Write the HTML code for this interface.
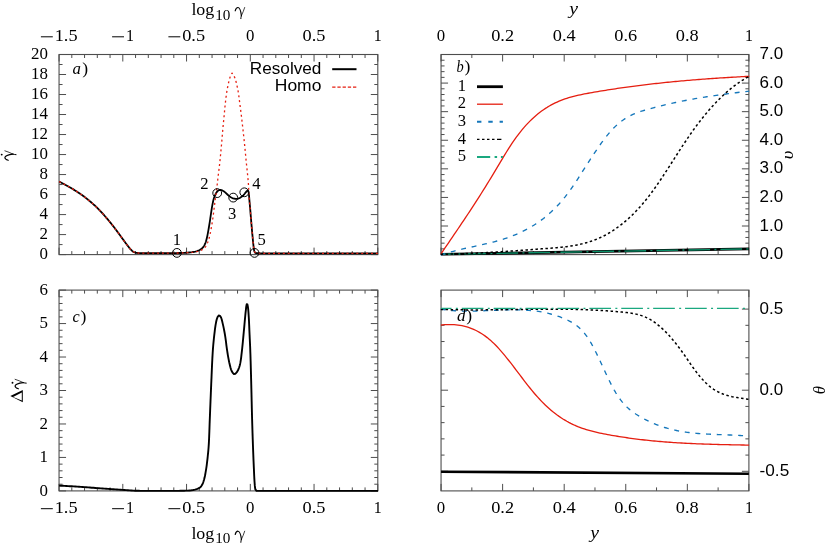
<!DOCTYPE html>
<html><head><meta charset="utf-8"><title>figure</title>
<style>html,body{margin:0;padding:0;background:#fff;}svg{display:block;will-change:transform;}</style>
</head><body>
<svg width="830" height="546" viewBox="0 0 830 546">
<clipPath id="ca"><rect x="58.55" y="52.5" width="319.75" height="204.1"/></clipPath>
<rect x="59.05" y="54.5" width="318.75" height="200.1" fill="none" stroke="#4d4d4d" stroke-width="1.1"/>
<line x1="59.05" y1="54.5" x2="59.05" y2="61.5" stroke="#4d4d4d" stroke-width="1.0" />
<line x1="122.8" y1="54.5" x2="122.8" y2="61.5" stroke="#4d4d4d" stroke-width="1.0" />
<line x1="186.55" y1="54.5" x2="186.55" y2="61.5" stroke="#4d4d4d" stroke-width="1.0" />
<line x1="250.3" y1="54.5" x2="250.3" y2="61.5" stroke="#4d4d4d" stroke-width="1.0" />
<line x1="314.05" y1="54.5" x2="314.05" y2="61.5" stroke="#4d4d4d" stroke-width="1.0" />
<line x1="377.8" y1="54.5" x2="377.8" y2="61.5" stroke="#4d4d4d" stroke-width="1.0" />
<line x1="71.8" y1="54.5" x2="71.8" y2="58" stroke="#4d4d4d" stroke-width="1.0" />
<line x1="84.55" y1="54.5" x2="84.55" y2="58" stroke="#4d4d4d" stroke-width="1.0" />
<line x1="97.3" y1="54.5" x2="97.3" y2="58" stroke="#4d4d4d" stroke-width="1.0" />
<line x1="110.05" y1="54.5" x2="110.05" y2="58" stroke="#4d4d4d" stroke-width="1.0" />
<line x1="135.55" y1="54.5" x2="135.55" y2="58" stroke="#4d4d4d" stroke-width="1.0" />
<line x1="148.3" y1="54.5" x2="148.3" y2="58" stroke="#4d4d4d" stroke-width="1.0" />
<line x1="161.05" y1="54.5" x2="161.05" y2="58" stroke="#4d4d4d" stroke-width="1.0" />
<line x1="173.8" y1="54.5" x2="173.8" y2="58" stroke="#4d4d4d" stroke-width="1.0" />
<line x1="199.3" y1="54.5" x2="199.3" y2="58" stroke="#4d4d4d" stroke-width="1.0" />
<line x1="212.05" y1="54.5" x2="212.05" y2="58" stroke="#4d4d4d" stroke-width="1.0" />
<line x1="224.8" y1="54.5" x2="224.8" y2="58" stroke="#4d4d4d" stroke-width="1.0" />
<line x1="237.55" y1="54.5" x2="237.55" y2="58" stroke="#4d4d4d" stroke-width="1.0" />
<line x1="263.05" y1="54.5" x2="263.05" y2="58" stroke="#4d4d4d" stroke-width="1.0" />
<line x1="275.8" y1="54.5" x2="275.8" y2="58" stroke="#4d4d4d" stroke-width="1.0" />
<line x1="288.55" y1="54.5" x2="288.55" y2="58" stroke="#4d4d4d" stroke-width="1.0" />
<line x1="301.3" y1="54.5" x2="301.3" y2="58" stroke="#4d4d4d" stroke-width="1.0" />
<line x1="326.8" y1="54.5" x2="326.8" y2="58" stroke="#4d4d4d" stroke-width="1.0" />
<line x1="339.55" y1="54.5" x2="339.55" y2="58" stroke="#4d4d4d" stroke-width="1.0" />
<line x1="352.3" y1="54.5" x2="352.3" y2="58" stroke="#4d4d4d" stroke-width="1.0" />
<line x1="365.05" y1="54.5" x2="365.05" y2="58" stroke="#4d4d4d" stroke-width="1.0" />
<line x1="59.05" y1="254.6" x2="59.05" y2="247.6" stroke="#4d4d4d" stroke-width="1.0" />
<line x1="122.8" y1="254.6" x2="122.8" y2="247.6" stroke="#4d4d4d" stroke-width="1.0" />
<line x1="186.55" y1="254.6" x2="186.55" y2="247.6" stroke="#4d4d4d" stroke-width="1.0" />
<line x1="250.3" y1="254.6" x2="250.3" y2="247.6" stroke="#4d4d4d" stroke-width="1.0" />
<line x1="314.05" y1="254.6" x2="314.05" y2="247.6" stroke="#4d4d4d" stroke-width="1.0" />
<line x1="377.8" y1="254.6" x2="377.8" y2="247.6" stroke="#4d4d4d" stroke-width="1.0" />
<line x1="71.8" y1="254.6" x2="71.8" y2="251.1" stroke="#4d4d4d" stroke-width="1.0" />
<line x1="84.55" y1="254.6" x2="84.55" y2="251.1" stroke="#4d4d4d" stroke-width="1.0" />
<line x1="97.3" y1="254.6" x2="97.3" y2="251.1" stroke="#4d4d4d" stroke-width="1.0" />
<line x1="110.05" y1="254.6" x2="110.05" y2="251.1" stroke="#4d4d4d" stroke-width="1.0" />
<line x1="135.55" y1="254.6" x2="135.55" y2="251.1" stroke="#4d4d4d" stroke-width="1.0" />
<line x1="148.3" y1="254.6" x2="148.3" y2="251.1" stroke="#4d4d4d" stroke-width="1.0" />
<line x1="161.05" y1="254.6" x2="161.05" y2="251.1" stroke="#4d4d4d" stroke-width="1.0" />
<line x1="173.8" y1="254.6" x2="173.8" y2="251.1" stroke="#4d4d4d" stroke-width="1.0" />
<line x1="199.3" y1="254.6" x2="199.3" y2="251.1" stroke="#4d4d4d" stroke-width="1.0" />
<line x1="212.05" y1="254.6" x2="212.05" y2="251.1" stroke="#4d4d4d" stroke-width="1.0" />
<line x1="224.8" y1="254.6" x2="224.8" y2="251.1" stroke="#4d4d4d" stroke-width="1.0" />
<line x1="237.55" y1="254.6" x2="237.55" y2="251.1" stroke="#4d4d4d" stroke-width="1.0" />
<line x1="263.05" y1="254.6" x2="263.05" y2="251.1" stroke="#4d4d4d" stroke-width="1.0" />
<line x1="275.8" y1="254.6" x2="275.8" y2="251.1" stroke="#4d4d4d" stroke-width="1.0" />
<line x1="288.55" y1="254.6" x2="288.55" y2="251.1" stroke="#4d4d4d" stroke-width="1.0" />
<line x1="301.3" y1="254.6" x2="301.3" y2="251.1" stroke="#4d4d4d" stroke-width="1.0" />
<line x1="326.8" y1="254.6" x2="326.8" y2="251.1" stroke="#4d4d4d" stroke-width="1.0" />
<line x1="339.55" y1="254.6" x2="339.55" y2="251.1" stroke="#4d4d4d" stroke-width="1.0" />
<line x1="352.3" y1="254.6" x2="352.3" y2="251.1" stroke="#4d4d4d" stroke-width="1.0" />
<line x1="365.05" y1="254.6" x2="365.05" y2="251.1" stroke="#4d4d4d" stroke-width="1.0" />
<line x1="59.05" y1="254.6" x2="66.05" y2="254.6" stroke="#4d4d4d" stroke-width="1.0" />
<line x1="59.05" y1="234.59" x2="66.05" y2="234.59" stroke="#4d4d4d" stroke-width="1.0" />
<line x1="59.05" y1="214.58" x2="66.05" y2="214.58" stroke="#4d4d4d" stroke-width="1.0" />
<line x1="59.05" y1="194.57" x2="66.05" y2="194.57" stroke="#4d4d4d" stroke-width="1.0" />
<line x1="59.05" y1="174.56" x2="66.05" y2="174.56" stroke="#4d4d4d" stroke-width="1.0" />
<line x1="59.05" y1="154.55" x2="66.05" y2="154.55" stroke="#4d4d4d" stroke-width="1.0" />
<line x1="59.05" y1="134.54" x2="66.05" y2="134.54" stroke="#4d4d4d" stroke-width="1.0" />
<line x1="59.05" y1="114.53" x2="66.05" y2="114.53" stroke="#4d4d4d" stroke-width="1.0" />
<line x1="59.05" y1="94.52" x2="66.05" y2="94.52" stroke="#4d4d4d" stroke-width="1.0" />
<line x1="59.05" y1="74.51" x2="66.05" y2="74.51" stroke="#4d4d4d" stroke-width="1.0" />
<line x1="59.05" y1="54.5" x2="66.05" y2="54.5" stroke="#4d4d4d" stroke-width="1.0" />
<line x1="59.05" y1="244.59" x2="62.55" y2="244.59" stroke="#4d4d4d" stroke-width="1.0" />
<line x1="59.05" y1="224.59" x2="62.55" y2="224.59" stroke="#4d4d4d" stroke-width="1.0" />
<line x1="59.05" y1="204.57" x2="62.55" y2="204.57" stroke="#4d4d4d" stroke-width="1.0" />
<line x1="59.05" y1="184.56" x2="62.55" y2="184.56" stroke="#4d4d4d" stroke-width="1.0" />
<line x1="59.05" y1="164.56" x2="62.55" y2="164.56" stroke="#4d4d4d" stroke-width="1.0" />
<line x1="59.05" y1="144.54" x2="62.55" y2="144.54" stroke="#4d4d4d" stroke-width="1.0" />
<line x1="59.05" y1="124.53" x2="62.55" y2="124.53" stroke="#4d4d4d" stroke-width="1.0" />
<line x1="59.05" y1="104.53" x2="62.55" y2="104.53" stroke="#4d4d4d" stroke-width="1.0" />
<line x1="59.05" y1="84.52" x2="62.55" y2="84.52" stroke="#4d4d4d" stroke-width="1.0" />
<line x1="59.05" y1="64.5" x2="62.55" y2="64.5" stroke="#4d4d4d" stroke-width="1.0" />
<line x1="377.8" y1="254.6" x2="370.8" y2="254.6" stroke="#4d4d4d" stroke-width="1.0" />
<line x1="377.8" y1="234.59" x2="370.8" y2="234.59" stroke="#4d4d4d" stroke-width="1.0" />
<line x1="377.8" y1="214.58" x2="370.8" y2="214.58" stroke="#4d4d4d" stroke-width="1.0" />
<line x1="377.8" y1="194.57" x2="370.8" y2="194.57" stroke="#4d4d4d" stroke-width="1.0" />
<line x1="377.8" y1="174.56" x2="370.8" y2="174.56" stroke="#4d4d4d" stroke-width="1.0" />
<line x1="377.8" y1="154.55" x2="370.8" y2="154.55" stroke="#4d4d4d" stroke-width="1.0" />
<line x1="377.8" y1="134.54" x2="370.8" y2="134.54" stroke="#4d4d4d" stroke-width="1.0" />
<line x1="377.8" y1="114.53" x2="370.8" y2="114.53" stroke="#4d4d4d" stroke-width="1.0" />
<line x1="377.8" y1="94.52" x2="370.8" y2="94.52" stroke="#4d4d4d" stroke-width="1.0" />
<line x1="377.8" y1="74.51" x2="370.8" y2="74.51" stroke="#4d4d4d" stroke-width="1.0" />
<line x1="377.8" y1="54.5" x2="370.8" y2="54.5" stroke="#4d4d4d" stroke-width="1.0" />
<line x1="377.8" y1="244.59" x2="374.3" y2="244.59" stroke="#4d4d4d" stroke-width="1.0" />
<line x1="377.8" y1="224.59" x2="374.3" y2="224.59" stroke="#4d4d4d" stroke-width="1.0" />
<line x1="377.8" y1="204.57" x2="374.3" y2="204.57" stroke="#4d4d4d" stroke-width="1.0" />
<line x1="377.8" y1="184.56" x2="374.3" y2="184.56" stroke="#4d4d4d" stroke-width="1.0" />
<line x1="377.8" y1="164.56" x2="374.3" y2="164.56" stroke="#4d4d4d" stroke-width="1.0" />
<line x1="377.8" y1="144.54" x2="374.3" y2="144.54" stroke="#4d4d4d" stroke-width="1.0" />
<line x1="377.8" y1="124.53" x2="374.3" y2="124.53" stroke="#4d4d4d" stroke-width="1.0" />
<line x1="377.8" y1="104.53" x2="374.3" y2="104.53" stroke="#4d4d4d" stroke-width="1.0" />
<line x1="377.8" y1="84.52" x2="374.3" y2="84.52" stroke="#4d4d4d" stroke-width="1.0" />
<line x1="377.8" y1="64.5" x2="374.3" y2="64.5" stroke="#4d4d4d" stroke-width="1.0" />
<clipPath id="cb"><rect x="440.55" y="52.5" width="308.85" height="204.1"/></clipPath>
<rect x="441.05" y="54.5" width="307.85" height="200.1" fill="none" stroke="#4d4d4d" stroke-width="1.1"/>
<line x1="441.05" y1="54.5" x2="441.05" y2="61.5" stroke="#4d4d4d" stroke-width="1.0" />
<line x1="502.62" y1="54.5" x2="502.62" y2="61.5" stroke="#4d4d4d" stroke-width="1.0" />
<line x1="564.19" y1="54.5" x2="564.19" y2="61.5" stroke="#4d4d4d" stroke-width="1.0" />
<line x1="625.76" y1="54.5" x2="625.76" y2="61.5" stroke="#4d4d4d" stroke-width="1.0" />
<line x1="687.33" y1="54.5" x2="687.33" y2="61.5" stroke="#4d4d4d" stroke-width="1.0" />
<line x1="748.9" y1="54.5" x2="748.9" y2="61.5" stroke="#4d4d4d" stroke-width="1.0" />
<line x1="471.84" y1="54.5" x2="471.84" y2="58" stroke="#4d4d4d" stroke-width="1.0" />
<line x1="533.4" y1="54.5" x2="533.4" y2="58" stroke="#4d4d4d" stroke-width="1.0" />
<line x1="594.98" y1="54.5" x2="594.98" y2="58" stroke="#4d4d4d" stroke-width="1.0" />
<line x1="656.54" y1="54.5" x2="656.54" y2="58" stroke="#4d4d4d" stroke-width="1.0" />
<line x1="718.12" y1="54.5" x2="718.12" y2="58" stroke="#4d4d4d" stroke-width="1.0" />
<line x1="441.05" y1="254.6" x2="441.05" y2="247.6" stroke="#4d4d4d" stroke-width="1.0" />
<line x1="502.62" y1="254.6" x2="502.62" y2="247.6" stroke="#4d4d4d" stroke-width="1.0" />
<line x1="564.19" y1="254.6" x2="564.19" y2="247.6" stroke="#4d4d4d" stroke-width="1.0" />
<line x1="625.76" y1="254.6" x2="625.76" y2="247.6" stroke="#4d4d4d" stroke-width="1.0" />
<line x1="687.33" y1="254.6" x2="687.33" y2="247.6" stroke="#4d4d4d" stroke-width="1.0" />
<line x1="748.9" y1="254.6" x2="748.9" y2="247.6" stroke="#4d4d4d" stroke-width="1.0" />
<line x1="471.84" y1="254.6" x2="471.84" y2="251.1" stroke="#4d4d4d" stroke-width="1.0" />
<line x1="533.4" y1="254.6" x2="533.4" y2="251.1" stroke="#4d4d4d" stroke-width="1.0" />
<line x1="594.98" y1="254.6" x2="594.98" y2="251.1" stroke="#4d4d4d" stroke-width="1.0" />
<line x1="656.54" y1="254.6" x2="656.54" y2="251.1" stroke="#4d4d4d" stroke-width="1.0" />
<line x1="718.12" y1="254.6" x2="718.12" y2="251.1" stroke="#4d4d4d" stroke-width="1.0" />
<line x1="441.05" y1="254.6" x2="448.05" y2="254.6" stroke="#4d4d4d" stroke-width="1.0" />
<line x1="441.05" y1="226.01" x2="448.05" y2="226.01" stroke="#4d4d4d" stroke-width="1.0" />
<line x1="441.05" y1="197.43" x2="448.05" y2="197.43" stroke="#4d4d4d" stroke-width="1.0" />
<line x1="441.05" y1="168.84" x2="448.05" y2="168.84" stroke="#4d4d4d" stroke-width="1.0" />
<line x1="441.05" y1="140.26" x2="448.05" y2="140.26" stroke="#4d4d4d" stroke-width="1.0" />
<line x1="441.05" y1="111.67" x2="448.05" y2="111.67" stroke="#4d4d4d" stroke-width="1.0" />
<line x1="441.05" y1="83.09" x2="448.05" y2="83.09" stroke="#4d4d4d" stroke-width="1.0" />
<line x1="441.05" y1="54.5" x2="448.05" y2="54.5" stroke="#4d4d4d" stroke-width="1.0" />
<line x1="441.05" y1="248.88" x2="444.55" y2="248.88" stroke="#4d4d4d" stroke-width="1.0" />
<line x1="441.05" y1="243.17" x2="444.55" y2="243.17" stroke="#4d4d4d" stroke-width="1.0" />
<line x1="441.05" y1="237.45" x2="444.55" y2="237.45" stroke="#4d4d4d" stroke-width="1.0" />
<line x1="441.05" y1="231.73" x2="444.55" y2="231.73" stroke="#4d4d4d" stroke-width="1.0" />
<line x1="441.05" y1="220.3" x2="444.55" y2="220.3" stroke="#4d4d4d" stroke-width="1.0" />
<line x1="441.05" y1="214.58" x2="444.55" y2="214.58" stroke="#4d4d4d" stroke-width="1.0" />
<line x1="441.05" y1="208.86" x2="444.55" y2="208.86" stroke="#4d4d4d" stroke-width="1.0" />
<line x1="441.05" y1="203.15" x2="444.55" y2="203.15" stroke="#4d4d4d" stroke-width="1.0" />
<line x1="441.05" y1="191.71" x2="444.55" y2="191.71" stroke="#4d4d4d" stroke-width="1.0" />
<line x1="441.05" y1="185.99" x2="444.55" y2="185.99" stroke="#4d4d4d" stroke-width="1.0" />
<line x1="441.05" y1="180.28" x2="444.55" y2="180.28" stroke="#4d4d4d" stroke-width="1.0" />
<line x1="441.05" y1="174.56" x2="444.55" y2="174.56" stroke="#4d4d4d" stroke-width="1.0" />
<line x1="441.05" y1="163.13" x2="444.55" y2="163.13" stroke="#4d4d4d" stroke-width="1.0" />
<line x1="441.05" y1="157.41" x2="444.55" y2="157.41" stroke="#4d4d4d" stroke-width="1.0" />
<line x1="441.05" y1="151.69" x2="444.55" y2="151.69" stroke="#4d4d4d" stroke-width="1.0" />
<line x1="441.05" y1="145.97" x2="444.55" y2="145.97" stroke="#4d4d4d" stroke-width="1.0" />
<line x1="441.05" y1="134.54" x2="444.55" y2="134.54" stroke="#4d4d4d" stroke-width="1.0" />
<line x1="441.05" y1="128.82" x2="444.55" y2="128.82" stroke="#4d4d4d" stroke-width="1.0" />
<line x1="441.05" y1="123.11" x2="444.55" y2="123.11" stroke="#4d4d4d" stroke-width="1.0" />
<line x1="441.05" y1="117.39" x2="444.55" y2="117.39" stroke="#4d4d4d" stroke-width="1.0" />
<line x1="441.05" y1="105.95" x2="444.55" y2="105.95" stroke="#4d4d4d" stroke-width="1.0" />
<line x1="441.05" y1="100.24" x2="444.55" y2="100.24" stroke="#4d4d4d" stroke-width="1.0" />
<line x1="441.05" y1="94.52" x2="444.55" y2="94.52" stroke="#4d4d4d" stroke-width="1.0" />
<line x1="441.05" y1="88.8" x2="444.55" y2="88.8" stroke="#4d4d4d" stroke-width="1.0" />
<line x1="441.05" y1="77.37" x2="444.55" y2="77.37" stroke="#4d4d4d" stroke-width="1.0" />
<line x1="441.05" y1="71.65" x2="444.55" y2="71.65" stroke="#4d4d4d" stroke-width="1.0" />
<line x1="441.05" y1="65.93" x2="444.55" y2="65.93" stroke="#4d4d4d" stroke-width="1.0" />
<line x1="441.05" y1="60.22" x2="444.55" y2="60.22" stroke="#4d4d4d" stroke-width="1.0" />
<line x1="748.9" y1="254.6" x2="741.9" y2="254.6" stroke="#4d4d4d" stroke-width="1.0" />
<line x1="748.9" y1="226.01" x2="741.9" y2="226.01" stroke="#4d4d4d" stroke-width="1.0" />
<line x1="748.9" y1="197.43" x2="741.9" y2="197.43" stroke="#4d4d4d" stroke-width="1.0" />
<line x1="748.9" y1="168.84" x2="741.9" y2="168.84" stroke="#4d4d4d" stroke-width="1.0" />
<line x1="748.9" y1="140.26" x2="741.9" y2="140.26" stroke="#4d4d4d" stroke-width="1.0" />
<line x1="748.9" y1="111.67" x2="741.9" y2="111.67" stroke="#4d4d4d" stroke-width="1.0" />
<line x1="748.9" y1="83.09" x2="741.9" y2="83.09" stroke="#4d4d4d" stroke-width="1.0" />
<line x1="748.9" y1="54.5" x2="741.9" y2="54.5" stroke="#4d4d4d" stroke-width="1.0" />
<line x1="748.9" y1="248.88" x2="745.4" y2="248.88" stroke="#4d4d4d" stroke-width="1.0" />
<line x1="748.9" y1="243.17" x2="745.4" y2="243.17" stroke="#4d4d4d" stroke-width="1.0" />
<line x1="748.9" y1="237.45" x2="745.4" y2="237.45" stroke="#4d4d4d" stroke-width="1.0" />
<line x1="748.9" y1="231.73" x2="745.4" y2="231.73" stroke="#4d4d4d" stroke-width="1.0" />
<line x1="748.9" y1="220.3" x2="745.4" y2="220.3" stroke="#4d4d4d" stroke-width="1.0" />
<line x1="748.9" y1="214.58" x2="745.4" y2="214.58" stroke="#4d4d4d" stroke-width="1.0" />
<line x1="748.9" y1="208.86" x2="745.4" y2="208.86" stroke="#4d4d4d" stroke-width="1.0" />
<line x1="748.9" y1="203.15" x2="745.4" y2="203.15" stroke="#4d4d4d" stroke-width="1.0" />
<line x1="748.9" y1="191.71" x2="745.4" y2="191.71" stroke="#4d4d4d" stroke-width="1.0" />
<line x1="748.9" y1="185.99" x2="745.4" y2="185.99" stroke="#4d4d4d" stroke-width="1.0" />
<line x1="748.9" y1="180.28" x2="745.4" y2="180.28" stroke="#4d4d4d" stroke-width="1.0" />
<line x1="748.9" y1="174.56" x2="745.4" y2="174.56" stroke="#4d4d4d" stroke-width="1.0" />
<line x1="748.9" y1="163.13" x2="745.4" y2="163.13" stroke="#4d4d4d" stroke-width="1.0" />
<line x1="748.9" y1="157.41" x2="745.4" y2="157.41" stroke="#4d4d4d" stroke-width="1.0" />
<line x1="748.9" y1="151.69" x2="745.4" y2="151.69" stroke="#4d4d4d" stroke-width="1.0" />
<line x1="748.9" y1="145.97" x2="745.4" y2="145.97" stroke="#4d4d4d" stroke-width="1.0" />
<line x1="748.9" y1="134.54" x2="745.4" y2="134.54" stroke="#4d4d4d" stroke-width="1.0" />
<line x1="748.9" y1="128.82" x2="745.4" y2="128.82" stroke="#4d4d4d" stroke-width="1.0" />
<line x1="748.9" y1="123.11" x2="745.4" y2="123.11" stroke="#4d4d4d" stroke-width="1.0" />
<line x1="748.9" y1="117.39" x2="745.4" y2="117.39" stroke="#4d4d4d" stroke-width="1.0" />
<line x1="748.9" y1="105.95" x2="745.4" y2="105.95" stroke="#4d4d4d" stroke-width="1.0" />
<line x1="748.9" y1="100.24" x2="745.4" y2="100.24" stroke="#4d4d4d" stroke-width="1.0" />
<line x1="748.9" y1="94.52" x2="745.4" y2="94.52" stroke="#4d4d4d" stroke-width="1.0" />
<line x1="748.9" y1="88.8" x2="745.4" y2="88.8" stroke="#4d4d4d" stroke-width="1.0" />
<line x1="748.9" y1="77.37" x2="745.4" y2="77.37" stroke="#4d4d4d" stroke-width="1.0" />
<line x1="748.9" y1="71.65" x2="745.4" y2="71.65" stroke="#4d4d4d" stroke-width="1.0" />
<line x1="748.9" y1="65.93" x2="745.4" y2="65.93" stroke="#4d4d4d" stroke-width="1.0" />
<line x1="748.9" y1="60.22" x2="745.4" y2="60.22" stroke="#4d4d4d" stroke-width="1.0" />
<clipPath id="cc"><rect x="58.55" y="288.1" width="319.75" height="204.8"/></clipPath>
<rect x="59.05" y="290.1" width="318.75" height="200.8" fill="none" stroke="#4d4d4d" stroke-width="1.1"/>
<line x1="59.05" y1="290.1" x2="59.05" y2="297.1" stroke="#4d4d4d" stroke-width="1.0" />
<line x1="122.8" y1="290.1" x2="122.8" y2="297.1" stroke="#4d4d4d" stroke-width="1.0" />
<line x1="186.55" y1="290.1" x2="186.55" y2="297.1" stroke="#4d4d4d" stroke-width="1.0" />
<line x1="250.3" y1="290.1" x2="250.3" y2="297.1" stroke="#4d4d4d" stroke-width="1.0" />
<line x1="314.05" y1="290.1" x2="314.05" y2="297.1" stroke="#4d4d4d" stroke-width="1.0" />
<line x1="377.8" y1="290.1" x2="377.8" y2="297.1" stroke="#4d4d4d" stroke-width="1.0" />
<line x1="71.8" y1="290.1" x2="71.8" y2="293.6" stroke="#4d4d4d" stroke-width="1.0" />
<line x1="84.55" y1="290.1" x2="84.55" y2="293.6" stroke="#4d4d4d" stroke-width="1.0" />
<line x1="97.3" y1="290.1" x2="97.3" y2="293.6" stroke="#4d4d4d" stroke-width="1.0" />
<line x1="110.05" y1="290.1" x2="110.05" y2="293.6" stroke="#4d4d4d" stroke-width="1.0" />
<line x1="135.55" y1="290.1" x2="135.55" y2="293.6" stroke="#4d4d4d" stroke-width="1.0" />
<line x1="148.3" y1="290.1" x2="148.3" y2="293.6" stroke="#4d4d4d" stroke-width="1.0" />
<line x1="161.05" y1="290.1" x2="161.05" y2="293.6" stroke="#4d4d4d" stroke-width="1.0" />
<line x1="173.8" y1="290.1" x2="173.8" y2="293.6" stroke="#4d4d4d" stroke-width="1.0" />
<line x1="199.3" y1="290.1" x2="199.3" y2="293.6" stroke="#4d4d4d" stroke-width="1.0" />
<line x1="212.05" y1="290.1" x2="212.05" y2="293.6" stroke="#4d4d4d" stroke-width="1.0" />
<line x1="224.8" y1="290.1" x2="224.8" y2="293.6" stroke="#4d4d4d" stroke-width="1.0" />
<line x1="237.55" y1="290.1" x2="237.55" y2="293.6" stroke="#4d4d4d" stroke-width="1.0" />
<line x1="263.05" y1="290.1" x2="263.05" y2="293.6" stroke="#4d4d4d" stroke-width="1.0" />
<line x1="275.8" y1="290.1" x2="275.8" y2="293.6" stroke="#4d4d4d" stroke-width="1.0" />
<line x1="288.55" y1="290.1" x2="288.55" y2="293.6" stroke="#4d4d4d" stroke-width="1.0" />
<line x1="301.3" y1="290.1" x2="301.3" y2="293.6" stroke="#4d4d4d" stroke-width="1.0" />
<line x1="326.8" y1="290.1" x2="326.8" y2="293.6" stroke="#4d4d4d" stroke-width="1.0" />
<line x1="339.55" y1="290.1" x2="339.55" y2="293.6" stroke="#4d4d4d" stroke-width="1.0" />
<line x1="352.3" y1="290.1" x2="352.3" y2="293.6" stroke="#4d4d4d" stroke-width="1.0" />
<line x1="365.05" y1="290.1" x2="365.05" y2="293.6" stroke="#4d4d4d" stroke-width="1.0" />
<line x1="59.05" y1="490.9" x2="59.05" y2="483.9" stroke="#4d4d4d" stroke-width="1.0" />
<line x1="122.8" y1="490.9" x2="122.8" y2="483.9" stroke="#4d4d4d" stroke-width="1.0" />
<line x1="186.55" y1="490.9" x2="186.55" y2="483.9" stroke="#4d4d4d" stroke-width="1.0" />
<line x1="250.3" y1="490.9" x2="250.3" y2="483.9" stroke="#4d4d4d" stroke-width="1.0" />
<line x1="314.05" y1="490.9" x2="314.05" y2="483.9" stroke="#4d4d4d" stroke-width="1.0" />
<line x1="377.8" y1="490.9" x2="377.8" y2="483.9" stroke="#4d4d4d" stroke-width="1.0" />
<line x1="71.8" y1="490.9" x2="71.8" y2="487.4" stroke="#4d4d4d" stroke-width="1.0" />
<line x1="84.55" y1="490.9" x2="84.55" y2="487.4" stroke="#4d4d4d" stroke-width="1.0" />
<line x1="97.3" y1="490.9" x2="97.3" y2="487.4" stroke="#4d4d4d" stroke-width="1.0" />
<line x1="110.05" y1="490.9" x2="110.05" y2="487.4" stroke="#4d4d4d" stroke-width="1.0" />
<line x1="135.55" y1="490.9" x2="135.55" y2="487.4" stroke="#4d4d4d" stroke-width="1.0" />
<line x1="148.3" y1="490.9" x2="148.3" y2="487.4" stroke="#4d4d4d" stroke-width="1.0" />
<line x1="161.05" y1="490.9" x2="161.05" y2="487.4" stroke="#4d4d4d" stroke-width="1.0" />
<line x1="173.8" y1="490.9" x2="173.8" y2="487.4" stroke="#4d4d4d" stroke-width="1.0" />
<line x1="199.3" y1="490.9" x2="199.3" y2="487.4" stroke="#4d4d4d" stroke-width="1.0" />
<line x1="212.05" y1="490.9" x2="212.05" y2="487.4" stroke="#4d4d4d" stroke-width="1.0" />
<line x1="224.8" y1="490.9" x2="224.8" y2="487.4" stroke="#4d4d4d" stroke-width="1.0" />
<line x1="237.55" y1="490.9" x2="237.55" y2="487.4" stroke="#4d4d4d" stroke-width="1.0" />
<line x1="263.05" y1="490.9" x2="263.05" y2="487.4" stroke="#4d4d4d" stroke-width="1.0" />
<line x1="275.8" y1="490.9" x2="275.8" y2="487.4" stroke="#4d4d4d" stroke-width="1.0" />
<line x1="288.55" y1="490.9" x2="288.55" y2="487.4" stroke="#4d4d4d" stroke-width="1.0" />
<line x1="301.3" y1="490.9" x2="301.3" y2="487.4" stroke="#4d4d4d" stroke-width="1.0" />
<line x1="326.8" y1="490.9" x2="326.8" y2="487.4" stroke="#4d4d4d" stroke-width="1.0" />
<line x1="339.55" y1="490.9" x2="339.55" y2="487.4" stroke="#4d4d4d" stroke-width="1.0" />
<line x1="352.3" y1="490.9" x2="352.3" y2="487.4" stroke="#4d4d4d" stroke-width="1.0" />
<line x1="365.05" y1="490.9" x2="365.05" y2="487.4" stroke="#4d4d4d" stroke-width="1.0" />
<line x1="59.05" y1="490.9" x2="66.05" y2="490.9" stroke="#4d4d4d" stroke-width="1.0" />
<line x1="59.05" y1="457.43" x2="66.05" y2="457.43" stroke="#4d4d4d" stroke-width="1.0" />
<line x1="59.05" y1="423.97" x2="66.05" y2="423.97" stroke="#4d4d4d" stroke-width="1.0" />
<line x1="59.05" y1="390.5" x2="66.05" y2="390.5" stroke="#4d4d4d" stroke-width="1.0" />
<line x1="59.05" y1="357.03" x2="66.05" y2="357.03" stroke="#4d4d4d" stroke-width="1.0" />
<line x1="59.05" y1="323.57" x2="66.05" y2="323.57" stroke="#4d4d4d" stroke-width="1.0" />
<line x1="59.05" y1="290.1" x2="66.05" y2="290.1" stroke="#4d4d4d" stroke-width="1.0" />
<line x1="59.05" y1="484.21" x2="62.55" y2="484.21" stroke="#4d4d4d" stroke-width="1.0" />
<line x1="59.05" y1="477.51" x2="62.55" y2="477.51" stroke="#4d4d4d" stroke-width="1.0" />
<line x1="59.05" y1="470.82" x2="62.55" y2="470.82" stroke="#4d4d4d" stroke-width="1.0" />
<line x1="59.05" y1="464.13" x2="62.55" y2="464.13" stroke="#4d4d4d" stroke-width="1.0" />
<line x1="59.05" y1="450.74" x2="62.55" y2="450.74" stroke="#4d4d4d" stroke-width="1.0" />
<line x1="59.05" y1="444.05" x2="62.55" y2="444.05" stroke="#4d4d4d" stroke-width="1.0" />
<line x1="59.05" y1="437.35" x2="62.55" y2="437.35" stroke="#4d4d4d" stroke-width="1.0" />
<line x1="59.05" y1="430.66" x2="62.55" y2="430.66" stroke="#4d4d4d" stroke-width="1.0" />
<line x1="59.05" y1="417.27" x2="62.55" y2="417.27" stroke="#4d4d4d" stroke-width="1.0" />
<line x1="59.05" y1="410.58" x2="62.55" y2="410.58" stroke="#4d4d4d" stroke-width="1.0" />
<line x1="59.05" y1="403.89" x2="62.55" y2="403.89" stroke="#4d4d4d" stroke-width="1.0" />
<line x1="59.05" y1="397.19" x2="62.55" y2="397.19" stroke="#4d4d4d" stroke-width="1.0" />
<line x1="59.05" y1="383.81" x2="62.55" y2="383.81" stroke="#4d4d4d" stroke-width="1.0" />
<line x1="59.05" y1="377.11" x2="62.55" y2="377.11" stroke="#4d4d4d" stroke-width="1.0" />
<line x1="59.05" y1="370.42" x2="62.55" y2="370.42" stroke="#4d4d4d" stroke-width="1.0" />
<line x1="59.05" y1="363.73" x2="62.55" y2="363.73" stroke="#4d4d4d" stroke-width="1.0" />
<line x1="59.05" y1="350.34" x2="62.55" y2="350.34" stroke="#4d4d4d" stroke-width="1.0" />
<line x1="59.05" y1="343.65" x2="62.55" y2="343.65" stroke="#4d4d4d" stroke-width="1.0" />
<line x1="59.05" y1="336.95" x2="62.55" y2="336.95" stroke="#4d4d4d" stroke-width="1.0" />
<line x1="59.05" y1="330.26" x2="62.55" y2="330.26" stroke="#4d4d4d" stroke-width="1.0" />
<line x1="59.05" y1="316.87" x2="62.55" y2="316.87" stroke="#4d4d4d" stroke-width="1.0" />
<line x1="59.05" y1="310.18" x2="62.55" y2="310.18" stroke="#4d4d4d" stroke-width="1.0" />
<line x1="59.05" y1="303.49" x2="62.55" y2="303.49" stroke="#4d4d4d" stroke-width="1.0" />
<line x1="59.05" y1="296.79" x2="62.55" y2="296.79" stroke="#4d4d4d" stroke-width="1.0" />
<line x1="377.8" y1="490.9" x2="370.8" y2="490.9" stroke="#4d4d4d" stroke-width="1.0" />
<line x1="377.8" y1="457.43" x2="370.8" y2="457.43" stroke="#4d4d4d" stroke-width="1.0" />
<line x1="377.8" y1="423.97" x2="370.8" y2="423.97" stroke="#4d4d4d" stroke-width="1.0" />
<line x1="377.8" y1="390.5" x2="370.8" y2="390.5" stroke="#4d4d4d" stroke-width="1.0" />
<line x1="377.8" y1="357.03" x2="370.8" y2="357.03" stroke="#4d4d4d" stroke-width="1.0" />
<line x1="377.8" y1="323.57" x2="370.8" y2="323.57" stroke="#4d4d4d" stroke-width="1.0" />
<line x1="377.8" y1="290.1" x2="370.8" y2="290.1" stroke="#4d4d4d" stroke-width="1.0" />
<line x1="377.8" y1="484.21" x2="374.3" y2="484.21" stroke="#4d4d4d" stroke-width="1.0" />
<line x1="377.8" y1="477.51" x2="374.3" y2="477.51" stroke="#4d4d4d" stroke-width="1.0" />
<line x1="377.8" y1="470.82" x2="374.3" y2="470.82" stroke="#4d4d4d" stroke-width="1.0" />
<line x1="377.8" y1="464.13" x2="374.3" y2="464.13" stroke="#4d4d4d" stroke-width="1.0" />
<line x1="377.8" y1="450.74" x2="374.3" y2="450.74" stroke="#4d4d4d" stroke-width="1.0" />
<line x1="377.8" y1="444.05" x2="374.3" y2="444.05" stroke="#4d4d4d" stroke-width="1.0" />
<line x1="377.8" y1="437.35" x2="374.3" y2="437.35" stroke="#4d4d4d" stroke-width="1.0" />
<line x1="377.8" y1="430.66" x2="374.3" y2="430.66" stroke="#4d4d4d" stroke-width="1.0" />
<line x1="377.8" y1="417.27" x2="374.3" y2="417.27" stroke="#4d4d4d" stroke-width="1.0" />
<line x1="377.8" y1="410.58" x2="374.3" y2="410.58" stroke="#4d4d4d" stroke-width="1.0" />
<line x1="377.8" y1="403.89" x2="374.3" y2="403.89" stroke="#4d4d4d" stroke-width="1.0" />
<line x1="377.8" y1="397.19" x2="374.3" y2="397.19" stroke="#4d4d4d" stroke-width="1.0" />
<line x1="377.8" y1="383.81" x2="374.3" y2="383.81" stroke="#4d4d4d" stroke-width="1.0" />
<line x1="377.8" y1="377.11" x2="374.3" y2="377.11" stroke="#4d4d4d" stroke-width="1.0" />
<line x1="377.8" y1="370.42" x2="374.3" y2="370.42" stroke="#4d4d4d" stroke-width="1.0" />
<line x1="377.8" y1="363.73" x2="374.3" y2="363.73" stroke="#4d4d4d" stroke-width="1.0" />
<line x1="377.8" y1="350.34" x2="374.3" y2="350.34" stroke="#4d4d4d" stroke-width="1.0" />
<line x1="377.8" y1="343.65" x2="374.3" y2="343.65" stroke="#4d4d4d" stroke-width="1.0" />
<line x1="377.8" y1="336.95" x2="374.3" y2="336.95" stroke="#4d4d4d" stroke-width="1.0" />
<line x1="377.8" y1="330.26" x2="374.3" y2="330.26" stroke="#4d4d4d" stroke-width="1.0" />
<line x1="377.8" y1="316.87" x2="374.3" y2="316.87" stroke="#4d4d4d" stroke-width="1.0" />
<line x1="377.8" y1="310.18" x2="374.3" y2="310.18" stroke="#4d4d4d" stroke-width="1.0" />
<line x1="377.8" y1="303.49" x2="374.3" y2="303.49" stroke="#4d4d4d" stroke-width="1.0" />
<line x1="377.8" y1="296.79" x2="374.3" y2="296.79" stroke="#4d4d4d" stroke-width="1.0" />
<clipPath id="cd"><rect x="440.55" y="288.1" width="308.85" height="204.8"/></clipPath>
<rect x="441.05" y="290.1" width="307.85" height="200.8" fill="none" stroke="#4d4d4d" stroke-width="1.1"/>
<line x1="441.05" y1="290.1" x2="441.05" y2="297.1" stroke="#4d4d4d" stroke-width="1.0" />
<line x1="502.62" y1="290.1" x2="502.62" y2="297.1" stroke="#4d4d4d" stroke-width="1.0" />
<line x1="564.19" y1="290.1" x2="564.19" y2="297.1" stroke="#4d4d4d" stroke-width="1.0" />
<line x1="625.76" y1="290.1" x2="625.76" y2="297.1" stroke="#4d4d4d" stroke-width="1.0" />
<line x1="687.33" y1="290.1" x2="687.33" y2="297.1" stroke="#4d4d4d" stroke-width="1.0" />
<line x1="748.9" y1="290.1" x2="748.9" y2="297.1" stroke="#4d4d4d" stroke-width="1.0" />
<line x1="471.84" y1="290.1" x2="471.84" y2="293.6" stroke="#4d4d4d" stroke-width="1.0" />
<line x1="533.4" y1="290.1" x2="533.4" y2="293.6" stroke="#4d4d4d" stroke-width="1.0" />
<line x1="594.98" y1="290.1" x2="594.98" y2="293.6" stroke="#4d4d4d" stroke-width="1.0" />
<line x1="656.54" y1="290.1" x2="656.54" y2="293.6" stroke="#4d4d4d" stroke-width="1.0" />
<line x1="718.12" y1="290.1" x2="718.12" y2="293.6" stroke="#4d4d4d" stroke-width="1.0" />
<line x1="441.05" y1="490.9" x2="441.05" y2="483.9" stroke="#4d4d4d" stroke-width="1.0" />
<line x1="502.62" y1="490.9" x2="502.62" y2="483.9" stroke="#4d4d4d" stroke-width="1.0" />
<line x1="564.19" y1="490.9" x2="564.19" y2="483.9" stroke="#4d4d4d" stroke-width="1.0" />
<line x1="625.76" y1="490.9" x2="625.76" y2="483.9" stroke="#4d4d4d" stroke-width="1.0" />
<line x1="687.33" y1="490.9" x2="687.33" y2="483.9" stroke="#4d4d4d" stroke-width="1.0" />
<line x1="748.9" y1="490.9" x2="748.9" y2="483.9" stroke="#4d4d4d" stroke-width="1.0" />
<line x1="471.84" y1="490.9" x2="471.84" y2="487.4" stroke="#4d4d4d" stroke-width="1.0" />
<line x1="533.4" y1="490.9" x2="533.4" y2="487.4" stroke="#4d4d4d" stroke-width="1.0" />
<line x1="594.98" y1="490.9" x2="594.98" y2="487.4" stroke="#4d4d4d" stroke-width="1.0" />
<line x1="656.54" y1="490.9" x2="656.54" y2="487.4" stroke="#4d4d4d" stroke-width="1.0" />
<line x1="718.12" y1="490.9" x2="718.12" y2="487.4" stroke="#4d4d4d" stroke-width="1.0" />
<line x1="441.05" y1="309.1" x2="448.05" y2="309.1" stroke="#4d4d4d" stroke-width="1.0" />
<line x1="748.9" y1="309.1" x2="741.9" y2="309.1" stroke="#4d4d4d" stroke-width="1.0" />
<line x1="441.05" y1="390.2" x2="448.05" y2="390.2" stroke="#4d4d4d" stroke-width="1.0" />
<line x1="748.9" y1="390.2" x2="741.9" y2="390.2" stroke="#4d4d4d" stroke-width="1.0" />
<line x1="441.05" y1="471.3" x2="448.05" y2="471.3" stroke="#4d4d4d" stroke-width="1.0" />
<line x1="748.9" y1="471.3" x2="741.9" y2="471.3" stroke="#4d4d4d" stroke-width="1.0" />
<line x1="441.05" y1="455.08" x2="444.55" y2="455.08" stroke="#4d4d4d" stroke-width="1.0" />
<line x1="748.9" y1="455.08" x2="745.4" y2="455.08" stroke="#4d4d4d" stroke-width="1.0" />
<line x1="441.05" y1="438.86" x2="444.55" y2="438.86" stroke="#4d4d4d" stroke-width="1.0" />
<line x1="748.9" y1="438.86" x2="745.4" y2="438.86" stroke="#4d4d4d" stroke-width="1.0" />
<line x1="441.05" y1="422.64" x2="444.55" y2="422.64" stroke="#4d4d4d" stroke-width="1.0" />
<line x1="748.9" y1="422.64" x2="745.4" y2="422.64" stroke="#4d4d4d" stroke-width="1.0" />
<line x1="441.05" y1="406.42" x2="444.55" y2="406.42" stroke="#4d4d4d" stroke-width="1.0" />
<line x1="748.9" y1="406.42" x2="745.4" y2="406.42" stroke="#4d4d4d" stroke-width="1.0" />
<line x1="441.05" y1="373.98" x2="444.55" y2="373.98" stroke="#4d4d4d" stroke-width="1.0" />
<line x1="748.9" y1="373.98" x2="745.4" y2="373.98" stroke="#4d4d4d" stroke-width="1.0" />
<line x1="441.05" y1="357.76" x2="444.55" y2="357.76" stroke="#4d4d4d" stroke-width="1.0" />
<line x1="748.9" y1="357.76" x2="745.4" y2="357.76" stroke="#4d4d4d" stroke-width="1.0" />
<line x1="441.05" y1="341.54" x2="444.55" y2="341.54" stroke="#4d4d4d" stroke-width="1.0" />
<line x1="748.9" y1="341.54" x2="745.4" y2="341.54" stroke="#4d4d4d" stroke-width="1.0" />
<line x1="441.05" y1="325.32" x2="444.55" y2="325.32" stroke="#4d4d4d" stroke-width="1.0" />
<line x1="748.9" y1="325.32" x2="745.4" y2="325.32" stroke="#4d4d4d" stroke-width="1.0" />
<path d="M59.1,181.6 L60.04,182.06 L60.97,182.52 L61.9,182.99 L62.82,183.47 L63.75,183.95 L64.67,184.44 L65.59,184.93 L66.5,185.42 L67.41,185.93 L68.32,186.44 L69.22,186.95 L70.13,187.47 L71.03,188 L71.92,188.53 L72.81,189.06 L73.7,189.61 L74.59,190.15 L75.47,190.71 L76.35,191.27 L77.22,191.83 L78.09,192.4 L78.96,192.98 L79.83,193.56 L80.68,194.15 L81.54,194.75 L82.38,195.35 L83.22,195.96 L84.06,196.59 L84.89,197.21 L85.71,197.85 L86.53,198.5 L87.34,199.15 L88.15,199.81 L88.96,200.47 L89.75,201.14 L90.55,201.81 L91.34,202.49 L92.13,203.17 L92.91,203.85 L93.69,204.55 L94.46,205.24 L95.23,205.95 L96,206.66 L96.75,207.38 L97.5,208.1 L98.23,208.83 L98.96,209.57 L99.68,210.32 L100.39,211.08 L101.1,211.85 L101.8,212.62 L102.5,213.4 L103.19,214.18 L103.88,214.96 L104.56,215.74 L105.25,216.53 L105.93,217.31 L106.61,218.1 L107.29,218.89 L107.96,219.68 L108.64,220.48 L109.3,221.28 L109.97,222.08 L110.62,222.89 L111.28,223.7 L111.93,224.51 L112.57,225.33 L113.21,226.15 L113.85,226.97 L114.48,227.8 L115.1,228.64 L115.73,229.47 L116.35,230.31 L116.97,231.14 L117.59,231.98 L118.21,232.81 L118.82,233.65 L119.44,234.49 L120.05,235.34 L120.66,236.18 L121.27,237.02 L121.88,237.87 L122.49,238.71 L123.11,239.55 L123.72,240.39 L124.34,241.23 L124.95,242.07 L125.57,242.91 L126.19,243.75 L126.81,244.58 L127.44,245.41 L128.08,246.23 L128.71,247.06 L129.35,247.89 L130.01,248.71 L130.69,249.48 L131.42,250.22 L132.19,250.97 L133.01,251.62 L133.89,252.08 L134.87,252.48 L135.89,252.78 L136.92,252.92 L137.94,252.98 L138.99,253.03 L140.03,253.07 L141.08,253.09 L142.12,253.1 L143.17,253.1 L144.21,253.1 L145.25,253.1 L146.29,253.1 L147.33,253.1 L148.37,253.1 L149.41,253.1 L150.45,253.1 L151.49,253.1 L152.53,253.1 L153.58,253.1 L154.62,253.1 L155.66,253.1 L156.7,253.1 L157.74,253.1 L158.78,253.1 L159.82,253.1 L160.86,253.1 L161.91,253.1 L162.95,253.1 L163.99,253.1 L165.03,253.09 L166.07,253.09 L167.11,253.09 L168.15,253.08 L169.19,253.08 L170.24,253.07 L171.28,253.07 L172.32,253.06 L173.36,253.06 L174.4,253.05 L175.44,253.04 L176.48,253.03 L177.52,253.02 L178.56,253.01 L179.6,253 L180.64,252.99 L181.68,252.96 L182.73,252.93 L183.77,252.87 L184.81,252.81 L185.85,252.74 L186.89,252.67 L187.93,252.58 L188.96,252.49 L190,252.4 L191.03,252.29 L192.07,252.16 L193.11,251.99 L194.13,251.81 L195.15,251.6 L196.15,251.36 L197.15,251.06 L198.14,250.7 L199.11,250.27 L200.01,249.79 L200.88,249.24 L201.72,248.58 L202.5,247.86 L203.17,247.1 L203.78,246.26 L204.34,245.36 L204.83,244.42 L205.25,243.48 L205.61,242.52 L205.93,241.53 L206.22,240.52 L206.49,239.51 L206.74,238.49 L206.98,237.47 L207.21,236.46 L207.43,235.44 L207.63,234.42 L207.82,233.4 L208.01,232.37 L208.19,231.35 L208.37,230.32 L208.55,229.29 L208.73,228.27 L208.9,227.24 L209.08,226.21 L209.25,225.19 L209.41,224.16 L209.58,223.13 L209.74,222.1 L209.9,221.07 L210.06,220.05 L210.21,219.02 L210.36,217.99 L210.51,216.95 L210.65,215.92 L210.8,214.89 L210.95,213.86 L211.1,212.83 L211.25,211.8 L211.41,210.77 L211.57,209.75 L211.74,208.72 L211.9,207.69 L212.08,206.66 L212.26,205.64 L212.44,204.61 L212.64,203.59 L212.85,202.57 L213.06,201.55 L213.29,200.53 L213.55,199.52 L213.82,198.52 L214.14,197.53 L214.5,196.55 L214.89,195.58 L215.31,194.63 L215.78,193.7 L216.3,192.8 L216.89,191.93 L217.56,191.14 L218.36,190.45 L219.28,189.99 L220.3,189.81 L221.31,190.08 L222.29,190.46 L223.22,190.94 L224.09,191.5 L224.9,192.14 L225.68,192.84 L226.46,193.54 L227.22,194.26 L227.97,194.98 L228.75,195.66 L229.58,196.3 L230.43,196.91 L231.31,197.45 L232.23,197.97 L233.19,198.42 L234.18,198.63 L235.22,198.73 L236.27,198.79 L237.3,198.78 L238.32,198.53 L239.3,198.16 L240.23,197.69 L241.11,197.11 L241.93,196.49 L242.71,195.78 L243.45,195.05 L244.16,194.29 L244.84,193.5 L245.5,192.69 L246.12,191.85 L246.81,191.09 L247.6,190.4 L247.6,190.4 L248.43,191.34 L248.69,192.68 L248.87,194.04 L249.01,195.37 L249.13,196.7 L249.24,198.04 L249.34,199.38 L249.45,200.72 L249.57,202.05 L249.69,203.39 L249.81,204.72 L249.94,206.05 L250.06,207.39 L250.18,208.72 L250.29,210.06 L250.4,211.39 L250.5,212.73 L250.61,214.06 L250.72,215.4 L250.83,216.73 L250.94,218.07 L251.05,219.4 L251.16,220.74 L251.28,222.07 L251.39,223.41 L251.5,224.74 L251.62,226.08 L251.74,227.41 L251.85,228.75 L251.97,230.08 L252.09,231.42 L252.21,232.75 L252.33,234.09 L252.46,235.42 L252.58,236.75 L252.71,238.09 L252.83,239.42 L252.96,240.76 L253.08,242.09 L253.22,243.42 L253.36,244.75 L253.51,246.08 L253.66,247.43 L253.83,248.77 L254.05,250.09 L254.37,251.4 L254.98,252.58 L256.19,253.16 L257.5,253.24 L258.83,253.27 L260.19,253.29 L261.54,253.3 L262.89,253.3 L264.22,253.3 L265.56,253.3 L266.9,253.3 L268.24,253.3 L269.58,253.3 L270.92,253.3 L272.26,253.3 L273.6,253.3 L274.94,253.3 L276.28,253.3 L277.62,253.3 L278.96,253.3 L280.3,253.3 L281.64,253.3 L282.98,253.3 L284.32,253.3 L285.66,253.3 L287,253.3 L288.34,253.3 L289.68,253.3 L291.02,253.3 L292.36,253.3 L293.7,253.3 L295.04,253.3 L296.38,253.3 L297.72,253.3 L299.06,253.3 L300.4,253.3 L301.74,253.3 L303.08,253.3 L304.42,253.3 L305.76,253.3 L307.1,253.3 L308.44,253.3 L309.77,253.3 L311.11,253.3 L312.45,253.3 L313.79,253.3 L315.13,253.3 L316.47,253.3 L317.81,253.3 L319.15,253.3 L320.49,253.3 L321.83,253.3 L323.17,253.3 L324.51,253.3 L325.85,253.3 L327.19,253.3 L328.53,253.3 L329.87,253.3 L331.21,253.3 L332.55,253.3 L333.89,253.3 L335.23,253.3 L336.57,253.3 L337.91,253.3 L339.25,253.3 L340.59,253.3 L341.93,253.3 L343.27,253.3 L344.61,253.3 L345.95,253.3 L347.29,253.3 L348.63,253.3 L349.97,253.3 L351.31,253.3 L352.65,253.3 L353.99,253.3 L355.32,253.3 L356.66,253.3 L358,253.3 L359.34,253.3 L360.68,253.3 L362.02,253.3 L363.36,253.3 L364.7,253.3 L366.04,253.3 L367.38,253.3 L368.72,253.3 L370.06,253.3 L371.4,253.3 L372.74,253.3 L374.08,253.3 L375.42,253.3 L376.76,253.3 L378.1,253.3" fill="none" stroke="#000" stroke-width="1.8" stroke-linejoin="round" stroke-linecap="butt"  clip-path="url(#ca)"/>
<path d="M59.1,181.6 L60.51,182.29 L61.92,183 L63.31,183.72 L64.71,184.45 L66.09,185.2 L67.46,185.96 L68.83,186.73 L70.2,187.51 L71.55,188.31 L72.9,189.12 L74.24,189.94 L75.57,190.77 L76.9,191.62 L78.21,192.48 L79.52,193.36 L80.82,194.25 L82.1,195.15 L83.37,196.07 L84.63,197.02 L85.87,197.98 L87.11,198.96 L88.33,199.95 L89.54,200.96 L90.74,201.97 L91.93,203 L93.11,204.03 L94.29,205.08 L95.45,206.15 L96.59,207.22 L97.72,208.32 L98.82,209.43 L99.91,210.56 L100.98,211.72 L102.04,212.88 L103.08,214.06 L104.12,215.24 L105.16,216.42 L106.19,217.61 L107.21,218.8 L108.23,220 L109.24,221.2 L110.24,222.42 L111.23,223.64 L112.21,224.87 L113.18,226.1 L114.13,227.35 L115.08,228.61 L116.02,229.87 L116.96,231.13 L117.89,232.39 L118.83,233.66 L119.75,234.93 L120.67,236.2 L121.6,237.48 L122.52,238.75 L123.45,240.01 L124.38,241.28 L125.31,242.55 L126.24,243.82 L127.19,245.07 L128.15,246.32 L129.1,247.57 L130.09,248.81 L131.15,249.95 L132.31,251.07 L133.58,251.94 L135.04,252.54 L136.59,252.89 L138.14,252.99 L139.71,253.06 L141.29,253.1 L142.87,253.1 L144.44,253.1 L146.01,253.1 L147.58,253.1 L149.15,253.1 L150.73,253.1 L152.3,253.1 L153.87,253.1 L155.44,253.1 L157.02,253.1 L158.59,253.1 L160.16,253.1 L161.73,253.1 L163.3,253.1 L164.88,253.09 L166.45,253.09 L168.02,253.08 L169.59,253.08 L171.16,253.07 L172.74,253.06 L174.31,253.05 L175.88,253.04 L177.45,253.02 L179.02,253.01 L180.59,252.99 L182.17,252.95 L183.74,252.89 L185.31,252.82 L186.88,252.72 L188.45,252.61 L190.01,252.5 L191.58,252.35 L193.15,252.16 L194.71,251.93 L196.25,251.65 L197.78,251.32 L199.32,250.89 L200.81,250.34 L202.2,249.69 L203.52,248.81 L204.7,247.73 L205.65,246.54 L206.46,245.17 L207.17,243.73 L207.77,242.29 L208.32,240.82 L208.81,239.31 L209.24,237.8 L209.63,236.28 L209.98,234.75 L210.3,233.21 L210.6,231.66 L210.89,230.11 L211.17,228.57 L211.45,227.02 L211.72,225.47 L211.98,223.92 L212.24,222.37 L212.48,220.82 L212.71,219.26 L212.93,217.71 L213.14,216.15 L213.34,214.59 L213.54,213.03 L213.74,211.47 L213.93,209.91 L214.12,208.35 L214.31,206.79 L214.5,205.23 L214.7,203.67 L214.9,202.11 L215.1,200.55 L215.31,198.99 L215.52,197.43 L215.73,195.88 L215.94,194.32 L216.15,192.76 L216.36,191.2 L216.56,189.64 L216.76,188.09 L216.96,186.53 L217.15,184.97 L217.33,183.4 L217.51,181.84 L217.68,180.28 L217.86,178.72 L218.04,177.16 L218.22,175.6 L218.41,174.03 L218.61,172.47 L218.8,170.91 L219,169.35 L219.19,167.79 L219.38,166.23 L219.56,164.67 L219.73,163.11 L219.9,161.55 L220.06,159.98 L220.22,158.42 L220.37,156.86 L220.52,155.29 L220.67,153.73 L220.82,152.16 L220.96,150.6 L221.11,149.03 L221.25,147.46 L221.39,145.9 L221.53,144.33 L221.67,142.77 L221.81,141.2 L221.94,139.64 L222.07,138.07 L222.2,136.5 L222.33,134.94 L222.46,133.37 L222.59,131.8 L222.73,130.24 L222.87,128.67 L223.01,127.11 L223.16,125.54 L223.31,123.98 L223.46,122.41 L223.62,120.85 L223.78,119.28 L223.93,117.72 L224.09,116.15 L224.23,114.59 L224.38,113.02 L224.52,111.46 L224.67,109.89 L224.81,108.33 L224.96,106.76 L225.12,105.2 L225.29,103.64 L225.46,102.07 L225.64,100.51 L225.82,98.95 L226.01,97.39 L226.22,95.83 L226.43,94.27 L226.65,92.72 L226.89,91.16 L227.15,89.61 L227.44,88.07 L227.75,86.53 L228.07,84.99 L228.41,83.45 L228.76,81.92 L229.14,80.39 L229.55,78.88 L230,77.36 L230.52,75.87 L231.19,74.32 L232.06,73.1 L232.97,74.18 L233.78,75.67 L234.52,77.08 L235.14,78.52 L235.61,80 L236.02,81.53 L236.38,83.06 L236.74,84.6 L237.09,86.13 L237.43,87.66 L237.75,89.2 L238.04,90.75 L238.3,92.3 L238.53,93.85 L238.75,95.41 L238.96,96.96 L239.16,98.52 L239.36,100.09 L239.56,101.65 L239.76,103.21 L239.97,104.76 L240.17,106.32 L240.38,107.88 L240.58,109.44 L240.78,111 L240.97,112.56 L241.17,114.12 L241.36,115.68 L241.55,117.24 L241.74,118.8 L241.92,120.36 L242.1,121.92 L242.28,123.48 L242.46,125.05 L242.63,126.61 L242.81,128.17 L242.98,129.73 L243.16,131.3 L243.33,132.86 L243.5,134.42 L243.68,135.98 L243.85,137.55 L244.01,139.11 L244.18,140.67 L244.35,142.23 L244.51,143.8 L244.67,145.36 L244.82,146.93 L244.98,148.49 L245.13,150.06 L245.28,151.62 L245.42,153.19 L245.57,154.75 L245.72,156.32 L245.86,157.88 L246.01,159.45 L246.16,161.01 L246.32,162.57 L246.48,164.14 L246.64,165.7 L246.81,167.26 L246.98,168.83 L247.15,170.39 L247.32,171.95 L247.48,173.52 L247.63,175.08 L247.78,176.65 L247.92,178.21 L248.07,179.78 L248.21,181.34 L248.34,182.91 L248.46,184.48 L248.55,186.05 L248.62,187.62 L248.67,189.19 L248.71,190.76 L248.75,192.33 L248.82,193.9 L248.93,195.47 L249.07,197.03 L249.23,198.6 L249.39,200.16 L249.54,201.73 L249.68,203.29 L249.83,204.86 L249.97,206.42 L250.11,207.99 L250.25,209.56 L250.38,211.12 L250.5,212.69 L250.63,214.26 L250.75,215.82 L250.88,217.39 L251.01,218.96 L251.14,220.52 L251.28,222.09 L251.41,223.66 L251.54,225.22 L251.68,226.79 L251.82,228.35 L251.96,229.92 L252.1,231.49 L252.24,233.05 L252.38,234.62 L252.53,236.18 L252.68,237.75 L252.82,239.31 L252.97,240.88 L253.12,242.44 L253.28,244.01 L253.45,245.57 L253.63,247.14 L253.82,248.71 L254.08,250.26 L254.52,251.82 L255.47,252.91 L257.04,253.22 L258.6,253.27 L260.19,253.29 L261.78,253.3 L263.35,253.3 L264.92,253.3 L266.49,253.3 L268.06,253.3 L269.64,253.3 L271.21,253.3 L272.78,253.3 L274.35,253.3 L275.92,253.3 L277.49,253.3 L279.07,253.3 L280.64,253.3 L282.21,253.3 L283.78,253.3 L285.35,253.3 L286.93,253.3 L288.5,253.3 L290.07,253.3 L291.64,253.3 L293.21,253.3 L294.79,253.3 L296.36,253.3 L297.93,253.3 L299.5,253.3 L301.07,253.3 L302.65,253.3 L304.22,253.3 L305.79,253.3 L307.36,253.3 L308.93,253.3 L310.51,253.3 L312.08,253.3 L313.65,253.3 L315.22,253.3 L316.79,253.3 L318.37,253.3 L319.94,253.3 L321.51,253.3 L323.08,253.3 L324.65,253.3 L326.23,253.3 L327.8,253.3 L329.37,253.3 L330.94,253.3 L332.51,253.3 L334.09,253.3 L335.66,253.3 L337.23,253.3 L338.8,253.3 L340.37,253.3 L341.95,253.3 L343.52,253.3 L345.09,253.3 L346.66,253.3 L348.23,253.3 L349.8,253.3 L351.38,253.3 L352.95,253.3 L354.52,253.3 L356.09,253.3 L357.66,253.3 L359.24,253.3 L360.81,253.3 L362.38,253.3 L363.95,253.3 L365.52,253.3 L367.1,253.3 L368.67,253.3 L370.24,253.3 L371.81,253.3 L373.38,253.3 L374.96,253.3 L376.53,253.3 L378.1,253.3" fill="none" stroke="#e51e10" stroke-width="1.3" stroke-linejoin="round" stroke-linecap="butt" stroke-dasharray="2.0 2.9"  clip-path="url(#ca)"/>
<circle cx="176.9" cy="252.9" r="4.4" fill="none" stroke="#000" stroke-width="1.0"/>
<circle cx="217.2" cy="193.1" r="4.4" fill="none" stroke="#000" stroke-width="1.0"/>
<circle cx="233.2" cy="197.6" r="4.4" fill="none" stroke="#000" stroke-width="1.0"/>
<circle cx="244.3" cy="192.3" r="4.4" fill="none" stroke="#000" stroke-width="1.0"/>
<circle cx="254.5" cy="252.9" r="4.4" fill="none" stroke="#000" stroke-width="1.0"/>
<text x="176.9" y="244.9" font-family="'Liberation Serif', serif" font-size="17.6" text-anchor="middle" textLength="8.3" lengthAdjust="spacingAndGlyphs" fill="#000" >1</text>
<text x="204.3" y="188.8" font-family="'Liberation Serif', serif" font-size="17.6" text-anchor="middle" textLength="8.3" lengthAdjust="spacingAndGlyphs" fill="#000" >2</text>
<text x="232.2" y="218.9" font-family="'Liberation Serif', serif" font-size="17.6" text-anchor="middle" textLength="8.3" lengthAdjust="spacingAndGlyphs" fill="#000" >3</text>
<text x="256.3" y="188.8" font-family="'Liberation Serif', serif" font-size="17.6" text-anchor="middle" textLength="8.3" lengthAdjust="spacingAndGlyphs" fill="#000" >4</text>
<text x="261.6" y="244.9" font-family="'Liberation Serif', serif" font-size="17.6" text-anchor="middle" textLength="8.3" lengthAdjust="spacingAndGlyphs" fill="#000" >5</text>
<line x1="40.9" y1="36.8" x2="52.8" y2="36.8" stroke="#000" stroke-width="1.0" />
<text x="54.7" y="41.2" font-family="'Liberation Serif', serif" font-size="17.6" text-anchor="start" textLength="22.9" lengthAdjust="spacingAndGlyphs" fill="#000" >1.5</text>
<line x1="112.1" y1="36.8" x2="124" y2="36.8" stroke="#000" stroke-width="1.0" />
<text x="125.9" y="41.2" font-family="'Liberation Serif', serif" font-size="17.6" text-anchor="start" textLength="8" lengthAdjust="spacingAndGlyphs" fill="#000" >1</text>
<line x1="168.4" y1="36.8" x2="180.3" y2="36.8" stroke="#000" stroke-width="1.0" />
<text x="182.2" y="41.2" font-family="'Liberation Serif', serif" font-size="17.6" text-anchor="start" textLength="22.9" lengthAdjust="spacingAndGlyphs" fill="#000" >0.5</text>
<text x="250.3" y="41.2" font-family="'Liberation Serif', serif" font-size="17.6" text-anchor="middle" textLength="8.4" lengthAdjust="spacingAndGlyphs" fill="#000" >0</text>
<text x="314.05" y="41.2" font-family="'Liberation Serif', serif" font-size="17.6" text-anchor="middle" textLength="22.9" lengthAdjust="spacingAndGlyphs" fill="#000" >0.5</text>
<text x="377.8" y="41.2" font-family="'Liberation Serif', serif" font-size="17.6" text-anchor="middle" textLength="8" lengthAdjust="spacingAndGlyphs" fill="#000" >1</text>
<text x="47.9" y="259.2" font-family="'Liberation Serif', serif" font-size="17.6" text-anchor="end" textLength="8.45" lengthAdjust="spacingAndGlyphs" fill="#000" >0</text>
<text x="47.9" y="239.19" font-family="'Liberation Serif', serif" font-size="17.6" text-anchor="end" textLength="8.45" lengthAdjust="spacingAndGlyphs" fill="#000" >2</text>
<text x="47.9" y="219.18" font-family="'Liberation Serif', serif" font-size="17.6" text-anchor="end" textLength="8.45" lengthAdjust="spacingAndGlyphs" fill="#000" >4</text>
<text x="47.9" y="199.17" font-family="'Liberation Serif', serif" font-size="17.6" text-anchor="end" textLength="8.45" lengthAdjust="spacingAndGlyphs" fill="#000" >6</text>
<text x="47.9" y="179.16" font-family="'Liberation Serif', serif" font-size="17.6" text-anchor="end" textLength="8.45" lengthAdjust="spacingAndGlyphs" fill="#000" >8</text>
<text x="47.9" y="159.15" font-family="'Liberation Serif', serif" font-size="17.6" text-anchor="end" textLength="16.9" lengthAdjust="spacingAndGlyphs" fill="#000" >10</text>
<text x="47.9" y="139.14" font-family="'Liberation Serif', serif" font-size="17.6" text-anchor="end" textLength="16.9" lengthAdjust="spacingAndGlyphs" fill="#000" >12</text>
<text x="47.9" y="119.13" font-family="'Liberation Serif', serif" font-size="17.6" text-anchor="end" textLength="16.9" lengthAdjust="spacingAndGlyphs" fill="#000" >14</text>
<text x="47.9" y="99.12" font-family="'Liberation Serif', serif" font-size="17.6" text-anchor="end" textLength="16.9" lengthAdjust="spacingAndGlyphs" fill="#000" >16</text>
<text x="47.9" y="79.11" font-family="'Liberation Serif', serif" font-size="17.6" text-anchor="end" textLength="16.9" lengthAdjust="spacingAndGlyphs" fill="#000" >18</text>
<text x="47.9" y="59.1" font-family="'Liberation Serif', serif" font-size="17.6" text-anchor="end" textLength="16.9" lengthAdjust="spacingAndGlyphs" fill="#000" >20</text>
<text x="72.4" y="73.6" font-family="'Liberation Serif', serif" font-size="17.6" text-anchor="start" font-style="italic" textLength="8.4" lengthAdjust="spacingAndGlyphs" fill="#000" >a</text>
<text x="82.2" y="73.6" font-family="'Liberation Serif', serif" font-size="17.6" text-anchor="start" fill="#000" >)</text>
<text x="191.4" y="14.8" font-family="'Liberation Serif', serif" font-size="17.6" text-anchor="start" textLength="22.9" lengthAdjust="spacingAndGlyphs" fill="#000" >log</text>
<text x="215.2" y="19.7" font-family="'Liberation Serif', serif" font-size="14.2" text-anchor="start" textLength="15.2" lengthAdjust="spacingAndGlyphs" fill="#000" >10</text>
<g transform="translate(234.9,14.8)" fill="none" stroke="#000" stroke-linecap="round" stroke-linejoin="round"><path d="M0.3,-4.0 C0.9,-6.3 2.0,-7.4 3.2,-7.3 C4.9,-7.0 6.0,-3.4 6.5,0.8" stroke-width="1.15"/><path d="M9.8,-7.3 C9.0,-4.5 7.6,-1.5 6.5,0.8" stroke-width="0.75"/><path d="M6.5,0.8 C6.2,2.0 5.85,3.2 5.9,3.85" stroke-width="1.0"/></g>
<g transform="translate(12.2,160.6) rotate(-90)">
<g transform="translate(0,0)" fill="none" stroke="#000" stroke-linecap="round" stroke-linejoin="round"><path d="M0.3,-4.0 C0.9,-6.3 2.0,-7.4 3.2,-7.3 C4.9,-7.0 6.0,-3.4 6.5,0.8" stroke-width="1.15"/><path d="M9.8,-7.3 C9.0,-4.5 7.6,-1.5 6.5,0.8" stroke-width="0.75"/><path d="M6.5,0.8 C6.2,2.0 5.85,3.2 5.9,3.85" stroke-width="1.0"/><circle cx="6.0" cy="-10.5" r="0.95" fill="#000" stroke="none"/></g>
</g>
<text x="321.4" y="73.6" font-family="'Liberation Sans', sans-serif" font-size="17.2" text-anchor="end" textLength="71.6" lengthAdjust="spacingAndGlyphs" fill="#000" >Resolved</text>
<text x="321.4" y="91.2" font-family="'Liberation Sans', sans-serif" font-size="17.2" text-anchor="end" textLength="46.6" lengthAdjust="spacingAndGlyphs" fill="#000" >Homo</text>
<line x1="332.2" y1="69.2" x2="356.5" y2="69.2" stroke="#000" stroke-width="2.0" />
<line x1="332.2" y1="87.2" x2="356.5" y2="87.2" stroke="#e51e10" stroke-width="1.3" stroke-dasharray="3.3 1.9"/>
<path d="M441.05,254.3 L748.9,248.9" fill="none" stroke="#000" stroke-width="2.6" stroke-linejoin="round" stroke-linecap="butt"  clip-path="url(#cb)"/>
<path d="M441.05,254.3 L748.9,248.9" fill="none" stroke="#0a8f68" stroke-width="1.4" stroke-linejoin="round" stroke-linecap="butt" stroke-dasharray="21.7 4.3 2 4" stroke-dashoffset="8.6" clip-path="url(#cb)"/>
<path d="M440.6,254.37 L442.54,251.53 L444.48,248.69 L446.43,245.86 L448.37,243.01 L450.31,240.17 L452.25,237.32 L454.19,234.47 L456.14,231.61 L458.08,228.74 L460.02,225.86 L461.96,222.97 L463.91,220.07 L465.85,217.16 L467.79,214.24 L469.73,211.29 L471.67,208.33 L473.62,205.36 L475.56,202.36 L477.5,199.35 L479.44,196.31 L481.38,193.25 L483.33,190.17 L485.27,187.06 L487.21,183.93 L489.15,180.77 L491.1,177.57 L493.04,174.35 L494.98,171.11 L496.92,167.84 L498.86,164.58 L500.81,161.32 L502.75,158.09 L504.69,154.89 L506.63,151.74 L508.57,148.65 L510.52,145.63 L512.46,142.7 L514.4,139.87 L516.34,137.15 L518.29,134.54 L520.23,132.04 L522.17,129.65 L524.11,127.36 L526.05,125.18 L528,123.1 L529.94,121.11 L531.88,119.22 L533.82,117.42 L535.76,115.71 L537.71,114.09 L539.65,112.55 L541.59,111.09 L543.53,109.71 L545.48,108.41 L547.42,107.18 L549.36,106.02 L551.3,104.93 L553.24,103.9 L555.19,102.94 L557.13,102.04 L559.07,101.19 L561.01,100.39 L562.95,99.65 L564.9,98.96 L566.84,98.31 L568.78,97.7 L570.72,97.13 L572.67,96.6 L574.61,96.1 L576.55,95.63 L578.49,95.19 L580.43,94.76 L582.38,94.36 L584.32,93.98 L586.26,93.61 L588.2,93.25 L590.14,92.9 L592.09,92.56 L594.03,92.22 L595.97,91.88 L597.91,91.55 L599.86,91.22 L601.8,90.9 L603.74,90.58 L605.68,90.27 L607.62,89.96 L609.57,89.66 L611.51,89.36 L613.45,89.06 L615.39,88.77 L617.33,88.48 L619.28,88.19 L621.22,87.91 L623.16,87.64 L625.1,87.37 L627.05,87.1 L628.99,86.83 L630.93,86.57 L632.87,86.31 L634.81,86.06 L636.76,85.81 L638.7,85.56 L640.64,85.32 L642.58,85.08 L644.52,84.84 L646.47,84.61 L648.41,84.38 L650.35,84.16 L652.29,83.93 L654.24,83.71 L656.18,83.5 L658.12,83.28 L660.06,83.07 L662,82.87 L663.95,82.66 L665.89,82.46 L667.83,82.26 L669.77,82.07 L671.71,81.88 L673.66,81.69 L675.6,81.5 L677.54,81.32 L679.48,81.14 L681.43,80.96 L683.37,80.79 L685.31,80.62 L687.25,80.45 L689.19,80.28 L691.14,80.12 L693.08,79.96 L695.02,79.8 L696.96,79.65 L698.9,79.49 L700.85,79.34 L702.79,79.2 L704.73,79.05 L706.67,78.91 L708.62,78.77 L710.56,78.63 L712.5,78.49 L714.44,78.36 L716.38,78.23 L718.33,78.1 L720.27,77.97 L722.21,77.85 L724.15,77.73 L726.09,77.61 L728.04,77.49 L729.98,77.37 L731.92,77.26 L733.86,77.15 L735.81,77.04 L737.75,76.93 L739.69,76.82 L741.63,76.72 L743.57,76.62 L745.52,76.52 L747.46,76.42 L749.4,76.32" fill="none" stroke="#e51e10" stroke-width="1.3" stroke-linejoin="round" stroke-linecap="butt"  clip-path="url(#cb)"/>
<path d="M440.6,255.08 L442.54,254.43 L444.48,253.81 L446.43,253.21 L448.37,252.64 L450.31,252.09 L452.25,251.55 L454.19,251.04 L456.14,250.54 L458.08,250.06 L460.02,249.59 L461.96,249.14 L463.91,248.69 L465.85,248.25 L467.79,247.82 L469.73,247.39 L471.67,246.97 L473.62,246.55 L475.56,246.12 L477.5,245.7 L479.44,245.27 L481.38,244.84 L483.33,244.4 L485.27,243.96 L487.21,243.5 L489.15,243.03 L491.1,242.55 L493.04,242.06 L494.98,241.54 L496.92,241.01 L498.86,240.46 L500.81,239.89 L502.75,239.29 L504.69,238.67 L506.63,238.02 L508.57,237.35 L510.52,236.64 L512.46,235.9 L514.4,235.13 L516.34,234.32 L518.29,233.48 L520.23,232.6 L522.17,231.68 L524.11,230.71 L526.05,229.71 L528,228.66 L529.94,227.56 L531.88,226.41 L533.82,225.21 L535.76,223.97 L537.71,222.67 L539.65,221.31 L541.59,219.89 L543.53,218.42 L545.48,216.87 L547.42,215.26 L549.36,213.58 L551.3,211.82 L553.24,209.98 L555.19,208.06 L557.13,206.05 L559.07,203.96 L561.01,201.77 L562.95,199.49 L564.9,197.11 L566.84,194.62 L568.78,192.03 L570.72,189.34 L572.67,186.56 L574.61,183.69 L576.55,180.77 L578.49,177.79 L580.43,174.77 L582.38,171.73 L584.32,168.68 L586.26,165.63 L588.2,162.59 L590.14,159.57 L592.09,156.59 L594.03,153.65 L595.97,150.76 L597.91,147.92 L599.86,145.15 L601.8,142.46 L603.74,139.85 L605.68,137.32 L607.62,134.9 L609.57,132.59 L611.51,130.39 L613.45,128.31 L615.39,126.37 L617.33,124.56 L619.28,122.9 L621.22,121.37 L623.16,119.96 L625.1,118.66 L627.05,117.47 L628.99,116.38 L630.93,115.39 L632.87,114.47 L634.81,113.63 L636.76,112.86 L638.7,112.14 L640.64,111.47 L642.58,110.85 L644.52,110.26 L646.47,109.69 L648.41,109.14 L650.35,108.6 L652.29,108.08 L654.24,107.56 L656.18,107.05 L658.12,106.56 L660.06,106.07 L662,105.59 L663.95,105.12 L665.89,104.66 L667.83,104.2 L669.77,103.76 L671.71,103.33 L673.66,102.9 L675.6,102.48 L677.54,102.07 L679.48,101.67 L681.43,101.27 L683.37,100.88 L685.31,100.5 L687.25,100.13 L689.19,99.77 L691.14,99.41 L693.08,99.06 L695.02,98.71 L696.96,98.37 L698.9,98.04 L700.85,97.71 L702.79,97.39 L704.73,97.08 L706.67,96.77 L708.62,96.47 L710.56,96.17 L712.5,95.87 L714.44,95.59 L716.38,95.3 L718.33,95.03 L720.27,94.75 L722.21,94.48 L724.15,94.22 L726.09,93.96 L728.04,93.7 L729.98,93.45 L731.92,93.2 L733.86,92.96 L735.81,92.71 L737.75,92.48 L739.69,92.24 L741.63,92.01 L743.57,91.78 L745.52,91.55 L747.46,91.33 L749.4,91.1" fill="none" stroke="#1577bb" stroke-width="1.35" stroke-linejoin="round" stroke-linecap="butt" stroke-dasharray="4.9 5.8"  clip-path="url(#cb)"/>
<path d="M440.6,254.34 L442.15,254.32 L443.7,254.29 L445.26,254.25 L446.81,254.22 L448.36,254.18 L449.91,254.14 L451.46,254.1 L453.01,254.06 L454.57,254.01 L456.12,253.96 L457.67,253.91 L459.22,253.85 L460.77,253.8 L462.32,253.74 L463.88,253.68 L465.43,253.62 L466.98,253.55 L468.53,253.49 L470.08,253.42 L471.64,253.35 L473.19,253.28 L474.74,253.2 L476.29,253.13 L477.84,253.05 L479.39,252.97 L480.95,252.89 L482.5,252.81 L484.05,252.72 L485.6,252.64 L487.15,252.55 L488.7,252.46 L490.26,252.37 L491.81,252.28 L493.36,252.19 L494.91,252.1 L496.46,252 L498.02,251.9 L499.57,251.81 L501.12,251.71 L502.67,251.61 L504.22,251.51 L505.77,251.4 L507.33,251.3 L508.88,251.2 L510.43,251.09 L511.98,250.99 L513.53,250.88 L515.08,250.77 L516.64,250.66 L518.19,250.56 L519.74,250.45 L521.29,250.34 L522.84,250.23 L524.39,250.11 L525.95,250 L527.5,249.89 L529.05,249.78 L530.6,249.66 L532.15,249.55 L533.71,249.44 L535.26,249.32 L536.81,249.21 L538.36,249.09 L539.91,248.98 L541.46,248.86 L543.02,248.75 L544.57,248.63 L546.12,248.52 L547.67,248.4 L549.22,248.29 L550.77,248.17 L552.33,248.05 L553.88,247.92 L555.43,247.79 L556.98,247.66 L558.53,247.52 L560.09,247.37 L561.64,247.21 L563.19,247.04 L564.74,246.86 L566.29,246.67 L567.84,246.46 L569.4,246.24 L570.95,246.01 L572.5,245.76 L574.05,245.5 L575.6,245.22 L577.15,244.92 L578.71,244.6 L580.26,244.26 L581.81,243.89 L583.36,243.51 L584.91,243.1 L586.47,242.67 L588.02,242.21 L589.57,241.73 L591.12,241.21 L592.67,240.67 L594.22,240.1 L595.78,239.51 L597.33,238.87 L598.88,238.21 L600.43,237.51 L601.98,236.78 L603.53,236.02 L605.09,235.22 L606.64,234.38 L608.19,233.51 L609.74,232.6 L611.29,231.65 L612.85,230.67 L614.4,229.64 L615.95,228.58 L617.5,227.48 L619.05,226.34 L620.6,225.16 L622.16,223.94 L623.71,222.68 L625.26,221.38 L626.81,220.04 L628.36,218.65 L629.91,217.22 L631.47,215.75 L633.02,214.24 L634.57,212.68 L636.12,211.07 L637.67,209.43 L639.23,207.73 L640.78,205.99 L642.33,204.21 L643.88,202.38 L645.43,200.5 L646.98,198.57 L648.54,196.6 L650.09,194.58 L651.64,192.51 L653.19,190.39 L654.74,188.23 L656.29,186.02 L657.85,183.78 L659.4,181.51 L660.95,179.21 L662.5,176.87 L664.05,174.52 L665.61,172.14 L667.16,169.75 L668.71,167.35 L670.26,164.93 L671.81,162.51 L673.36,160.09 L674.92,157.66 L676.47,155.24 L678.02,152.83 L679.57,150.42 L681.12,148.03 L682.67,145.66 L684.23,143.3 L685.78,140.97 L687.33,138.67 L688.88,136.4 L690.43,134.16 L691.98,131.95 L693.54,129.79 L695.09,127.65 L696.64,125.56 L698.19,123.49 L699.74,121.47 L701.3,119.48 L702.85,117.53 L704.4,115.61 L705.95,113.73 L707.5,111.88 L709.05,110.08 L710.61,108.3 L712.16,106.57 L713.71,104.87 L715.26,103.21 L716.81,101.59 L718.36,100 L719.92,98.45 L721.47,96.94 L723.02,95.46 L724.57,94.03 L726.12,92.63 L727.68,91.27 L729.23,89.94 L730.78,88.66 L732.33,87.41 L733.88,86.2 L735.43,85.03 L736.99,83.9 L738.54,82.81 L740.09,81.76 L741.64,80.74 L743.19,79.77 L744.74,78.83 L746.3,77.93 L747.85,77.07 L749.4,76.25" fill="none" stroke="#000" stroke-width="1.5" stroke-linejoin="round" stroke-linecap="butt" stroke-dasharray="2.5 2.5"  clip-path="url(#cb)"/>
<text x="441.05" y="41.3" font-family="'Liberation Serif', serif" font-size="17.6" text-anchor="middle" textLength="8.4" lengthAdjust="spacingAndGlyphs" fill="#000" >0</text>
<text x="502.62" y="41.3" font-family="'Liberation Serif', serif" font-size="17.6" text-anchor="middle" textLength="22.9" lengthAdjust="spacingAndGlyphs" fill="#000" >0.2</text>
<text x="564.19" y="41.3" font-family="'Liberation Serif', serif" font-size="17.6" text-anchor="middle" textLength="22.9" lengthAdjust="spacingAndGlyphs" fill="#000" >0.4</text>
<text x="625.76" y="41.3" font-family="'Liberation Serif', serif" font-size="17.6" text-anchor="middle" textLength="22.9" lengthAdjust="spacingAndGlyphs" fill="#000" >0.6</text>
<text x="687.33" y="41.3" font-family="'Liberation Serif', serif" font-size="17.6" text-anchor="middle" textLength="22.9" lengthAdjust="spacingAndGlyphs" fill="#000" >0.8</text>
<text x="748.9" y="41.3" font-family="'Liberation Serif', serif" font-size="17.6" text-anchor="middle" textLength="8" lengthAdjust="spacingAndGlyphs" fill="#000" >1</text>
<text x="759.6" y="259.1" font-family="'Liberation Sans', sans-serif" font-size="17.3" text-anchor="start" textLength="23.6" lengthAdjust="spacingAndGlyphs" fill="#000" >0.0</text>
<text x="759.6" y="230.51" font-family="'Liberation Sans', sans-serif" font-size="17.3" text-anchor="start" textLength="23.6" lengthAdjust="spacingAndGlyphs" fill="#000" >1.0</text>
<text x="759.6" y="201.93" font-family="'Liberation Sans', sans-serif" font-size="17.3" text-anchor="start" textLength="23.6" lengthAdjust="spacingAndGlyphs" fill="#000" >2.0</text>
<text x="759.6" y="173.34" font-family="'Liberation Sans', sans-serif" font-size="17.3" text-anchor="start" textLength="23.6" lengthAdjust="spacingAndGlyphs" fill="#000" >3.0</text>
<text x="759.6" y="144.76" font-family="'Liberation Sans', sans-serif" font-size="17.3" text-anchor="start" textLength="23.6" lengthAdjust="spacingAndGlyphs" fill="#000" >4.0</text>
<text x="759.6" y="116.17" font-family="'Liberation Sans', sans-serif" font-size="17.3" text-anchor="start" textLength="23.6" lengthAdjust="spacingAndGlyphs" fill="#000" >5.0</text>
<text x="759.6" y="87.59" font-family="'Liberation Sans', sans-serif" font-size="17.3" text-anchor="start" textLength="23.6" lengthAdjust="spacingAndGlyphs" fill="#000" >6.0</text>
<text x="759.6" y="59" font-family="'Liberation Sans', sans-serif" font-size="17.3" text-anchor="start" textLength="23.6" lengthAdjust="spacingAndGlyphs" fill="#000" >7.0</text>
<text x="573.7" y="14.3" font-family="'Liberation Serif', serif" font-size="17.6" text-anchor="middle" font-style="italic" textLength="8.8" lengthAdjust="spacingAndGlyphs" fill="#000" >y</text>
<g transform="translate(793.0,159.2) rotate(-90)">
<text x="0" y="0" font-family="'Liberation Serif', serif" font-size="17.6" text-anchor="start" font-style="italic" textLength="8.6" lengthAdjust="spacingAndGlyphs" fill="#000" >υ</text>
</g>
<text x="456.5" y="72" font-family="'Liberation Serif', serif" font-size="17.6" text-anchor="start" font-style="italic" textLength="7.2" lengthAdjust="spacingAndGlyphs" fill="#000" >b</text>
<text x="464.4" y="72" font-family="'Liberation Serif', serif" font-size="17.6" text-anchor="start" fill="#000" >)</text>
<text x="462" y="90.8" font-family="'Liberation Serif', serif" font-size="17.6" text-anchor="middle" textLength="8.3" lengthAdjust="spacingAndGlyphs" fill="#000" >1</text>
<text x="462" y="108.45" font-family="'Liberation Serif', serif" font-size="17.6" text-anchor="middle" textLength="8.3" lengthAdjust="spacingAndGlyphs" fill="#000" >2</text>
<text x="462" y="126.1" font-family="'Liberation Serif', serif" font-size="17.6" text-anchor="middle" textLength="8.3" lengthAdjust="spacingAndGlyphs" fill="#000" >3</text>
<text x="462" y="143.75" font-family="'Liberation Serif', serif" font-size="17.6" text-anchor="middle" textLength="8.3" lengthAdjust="spacingAndGlyphs" fill="#000" >4</text>
<text x="462" y="161.4" font-family="'Liberation Serif', serif" font-size="17.6" text-anchor="middle" textLength="8.3" lengthAdjust="spacingAndGlyphs" fill="#000" >5</text>
<line x1="477" y1="86.7" x2="502.9" y2="86.7" stroke="#000" stroke-width="2.8" />
<line x1="477" y1="104.2" x2="502.9" y2="104.2" stroke="#e51e10" stroke-width="1.3" />
<line x1="477" y1="121.7" x2="502.9" y2="121.7" stroke="#1577bb" stroke-width="1.9" stroke-dasharray="4.4 6.9"/>
<line x1="477" y1="139.4" x2="501.4" y2="139.4" stroke="#000" stroke-width="1.4" stroke-dasharray="2.5 2.5 2.5 2.5 2.5 2.5 2.5 2.5 4.4 10"/>
<line x1="477" y1="157" x2="502.9" y2="157" stroke="#1aa87f" stroke-width="2.0" stroke-dasharray="13.2 4.4 2.5 3.8"/>
<path d="M59.1,485.6 L60.91,485.69 L62.72,485.79 L64.54,485.89 L66.35,485.99 L68.16,486.09 L69.97,486.2 L71.78,486.31 L73.59,486.42 L75.4,486.54 L77.21,486.66 L79.02,486.79 L80.83,486.91 L82.64,487.04 L84.45,487.16 L86.26,487.29 L88.07,487.42 L89.88,487.55 L91.69,487.68 L93.5,487.82 L95.31,487.95 L97.12,488.09 L98.93,488.22 L100.74,488.35 L102.55,488.49 L104.36,488.63 L106.17,488.76 L107.98,488.9 L109.79,489.03 L111.6,489.17 L113.41,489.29 L115.22,489.41 L117.03,489.53 L118.84,489.63 L120.65,489.74 L122.46,489.84 L124.27,489.95 L126.08,490.08 L127.89,490.23 L129.7,490.39 L131.51,490.52 L133.32,490.61 L135.13,490.68 L136.95,490.74 L138.76,490.8 L140.57,490.85 L142.39,490.88 L144.2,490.9 L146.02,490.9 L147.83,490.9 L149.65,490.9 L151.46,490.9 L153.27,490.9 L155.09,490.9 L156.9,490.9 L158.72,490.9 L160.53,490.9 L162.35,490.9 L164.16,490.9 L165.98,490.9 L167.79,490.9 L169.61,490.9 L171.42,490.9 L173.23,490.89 L175.05,490.87 L176.86,490.85 L178.68,490.83 L180.49,490.8 L182.31,490.76 L184.12,490.72 L185.93,490.67 L187.75,490.58 L189.57,490.44 L191.37,490.27 L193.16,490.03 L194.95,489.63 L196.69,489.11 L198.4,488.42 L200.02,487.48 L201.19,486.32 L202.14,484.82 L202.93,483.08 L203.58,481.29 L204.1,479.58 L204.54,477.83 L204.93,476.05 L205.27,474.25 L205.59,472.45 L205.89,470.66 L206.18,468.87 L206.45,467.08 L206.7,465.28 L206.93,463.48 L207.15,461.68 L207.36,459.87 L207.56,458.07 L207.75,456.27 L207.94,454.46 L208.12,452.65 L208.29,450.85 L208.45,449.04 L208.59,447.23 L208.72,445.42 L208.83,443.61 L208.92,441.8 L209.01,439.99 L209.1,438.18 L209.17,436.36 L209.24,434.55 L209.31,432.74 L209.37,430.92 L209.44,429.11 L209.5,427.3 L209.56,425.48 L209.62,423.67 L209.69,421.85 L209.76,420.04 L209.83,418.23 L209.9,416.42 L209.98,414.6 L210.05,412.79 L210.12,410.98 L210.19,409.16 L210.26,407.35 L210.34,405.54 L210.41,403.72 L210.48,401.91 L210.55,400.1 L210.63,398.29 L210.7,396.47 L210.78,394.66 L210.85,392.85 L210.93,391.03 L211,389.22 L211.08,387.41 L211.16,385.6 L211.23,383.78 L211.31,381.97 L211.39,380.16 L211.47,378.34 L211.55,376.53 L211.62,374.72 L211.7,372.9 L211.77,371.09 L211.85,369.28 L211.93,367.46 L212.01,365.65 L212.09,363.84 L212.18,362.03 L212.27,360.21 L212.36,358.4 L212.46,356.59 L212.57,354.78 L212.67,352.97 L212.79,351.16 L212.91,349.35 L213.05,347.54 L213.2,345.73 L213.36,343.92 L213.53,342.12 L213.7,340.31 L213.89,338.5 L214.09,336.7 L214.29,334.9 L214.5,333.1 L214.72,331.29 L214.94,329.49 L215.18,327.68 L215.44,325.88 L215.73,324.09 L216.07,322.31 L216.45,320.54 L216.92,318.72 L217.56,317.04 L218.7,315.53 L220.09,315.92 L221.07,317.55 L221.66,319.23 L222.12,321.03 L222.54,322.85 L222.96,324.61 L223.36,326.38 L223.73,328.16 L224.09,329.94 L224.43,331.72 L224.75,333.51 L225.05,335.3 L225.33,337.09 L225.59,338.88 L225.83,340.68 L226.06,342.48 L226.28,344.29 L226.51,346.09 L226.75,347.89 L227,349.68 L227.27,351.48 L227.56,353.27 L227.85,355.06 L228.16,356.85 L228.49,358.64 L228.83,360.42 L229.2,362.2 L229.61,363.96 L230.02,365.77 L230.47,367.6 L231,369.37 L231.65,371 L232.55,372.57 L233.94,374.01 L235.29,373.89 L236.66,372.45 L237.71,370.81 L238.47,369.22 L239.13,367.51 L239.67,365.72 L240.11,363.93 L240.46,362.17 L240.75,360.39 L241.01,358.59 L241.24,356.79 L241.45,354.97 L241.66,353.16 L241.86,351.35 L242.06,349.55 L242.26,347.75 L242.45,345.94 L242.63,344.14 L242.8,342.33 L242.97,340.53 L243.14,338.72 L243.31,336.91 L243.48,335.1 L243.64,333.3 L243.81,331.49 L243.99,329.68 L244.16,327.88 L244.32,326.07 L244.48,324.26 L244.64,322.46 L244.8,320.65 L244.97,318.84 L245.14,317.03 L245.31,315.23 L245.49,313.42 L245.69,311.62 L245.89,309.81 L246.08,308 L246.32,306.2 L246.72,304.26 L247.42,304.51 L247.81,306.37 L248.06,308.15 L248.26,309.96 L248.41,311.78 L248.54,313.61 L248.66,315.44 L248.78,317.25 L248.88,319.06 L248.98,320.87 L249.06,322.68 L249.14,324.49 L249.22,326.31 L249.29,328.12 L249.36,329.93 L249.44,331.75 L249.52,333.56 L249.61,335.37 L249.69,337.18 L249.78,339 L249.86,340.81 L249.95,342.62 L250.03,344.43 L250.11,346.25 L250.19,348.06 L250.26,349.87 L250.32,351.69 L250.39,353.5 L250.45,355.31 L250.51,357.13 L250.56,358.94 L250.62,360.75 L250.67,362.57 L250.72,364.38 L250.77,366.19 L250.82,368.01 L250.87,369.82 L250.92,371.64 L250.97,373.45 L251.02,375.26 L251.06,377.08 L251.11,378.89 L251.16,380.71 L251.21,382.52 L251.25,384.33 L251.3,386.15 L251.34,387.96 L251.39,389.77 L251.43,391.59 L251.48,393.4 L251.52,395.22 L251.56,397.03 L251.6,398.84 L251.64,400.66 L251.69,402.47 L251.73,404.29 L251.77,406.1 L251.81,407.91 L251.86,409.73 L251.9,411.54 L251.95,413.36 L252,415.17 L252.04,416.98 L252.09,418.8 L252.15,420.61 L252.2,422.42 L252.25,424.24 L252.31,426.05 L252.36,427.86 L252.42,429.68 L252.47,431.49 L252.53,433.31 L252.59,435.12 L252.65,436.93 L252.71,438.75 L252.78,440.56 L252.84,442.37 L252.9,444.19 L252.97,446 L253.03,447.81 L253.1,449.63 L253.17,451.44 L253.24,453.25 L253.31,455.06 L253.38,456.88 L253.45,458.69 L253.52,460.5 L253.6,462.32 L253.68,464.13 L253.76,465.94 L253.84,467.75 L253.92,469.57 L254,471.38 L254.08,473.19 L254.16,475.01 L254.25,476.82 L254.34,478.63 L254.45,480.45 L254.57,482.25 L254.7,484.06 L254.85,485.92 L255.06,487.77 L255.39,489.47 L256.5,490.81 L258.12,490.86 L260.05,490.89 L261.98,490.9 L263.79,490.9 L265.61,490.9 L267.42,490.9 L269.23,490.9 L271.05,490.9 L272.86,490.9 L274.68,490.9 L276.49,490.9 L278.31,490.9 L280.12,490.9 L281.94,490.9 L283.75,490.9 L285.56,490.9 L287.38,490.9 L289.19,490.9 L291.01,490.9 L292.82,490.9 L294.64,490.9 L296.45,490.9 L298.27,490.9 L300.08,490.9 L301.89,490.9 L303.71,490.9 L305.52,490.9 L307.34,490.9 L309.15,490.9 L310.97,490.9 L312.78,490.9 L314.6,490.9 L316.41,490.9 L318.22,490.9 L320.04,490.9 L321.85,490.9 L323.67,490.9 L325.48,490.9 L327.3,490.9 L329.11,490.9 L330.93,490.9 L332.74,490.9 L334.55,490.9 L336.37,490.9 L338.18,490.9 L340,490.9 L341.81,490.9 L343.63,490.9 L345.44,490.9 L347.25,490.9 L349.07,490.9 L350.88,490.9 L352.7,490.9 L354.51,490.9 L356.33,490.9 L358.14,490.9 L359.96,490.9 L361.77,490.9 L363.58,490.9 L365.4,490.9 L367.21,490.9 L369.03,490.9 L370.84,490.9 L372.66,490.9 L374.47,490.9 L376.29,490.9 L378.1,490.9" fill="none" stroke="#000" stroke-width="1.9" stroke-linejoin="round" stroke-linecap="butt"  clip-path="url(#cc)"/>
<line x1="40.9" y1="508.7" x2="52.8" y2="508.7" stroke="#000" stroke-width="1.0" />
<text x="54.7" y="513.1" font-family="'Liberation Serif', serif" font-size="17.6" text-anchor="start" textLength="22.9" lengthAdjust="spacingAndGlyphs" fill="#000" >1.5</text>
<line x1="112.1" y1="508.7" x2="124" y2="508.7" stroke="#000" stroke-width="1.0" />
<text x="125.9" y="513.1" font-family="'Liberation Serif', serif" font-size="17.6" text-anchor="start" textLength="8" lengthAdjust="spacingAndGlyphs" fill="#000" >1</text>
<line x1="168.4" y1="508.7" x2="180.3" y2="508.7" stroke="#000" stroke-width="1.0" />
<text x="182.2" y="513.1" font-family="'Liberation Serif', serif" font-size="17.6" text-anchor="start" textLength="22.9" lengthAdjust="spacingAndGlyphs" fill="#000" >0.5</text>
<text x="250.3" y="513.1" font-family="'Liberation Serif', serif" font-size="17.6" text-anchor="middle" textLength="8.4" lengthAdjust="spacingAndGlyphs" fill="#000" >0</text>
<text x="314.05" y="513.1" font-family="'Liberation Serif', serif" font-size="17.6" text-anchor="middle" textLength="22.9" lengthAdjust="spacingAndGlyphs" fill="#000" >0.5</text>
<text x="377.8" y="513.1" font-family="'Liberation Serif', serif" font-size="17.6" text-anchor="middle" textLength="8" lengthAdjust="spacingAndGlyphs" fill="#000" >1</text>
<text x="47.9" y="495.5" font-family="'Liberation Serif', serif" font-size="17.6" text-anchor="end" textLength="8.45" lengthAdjust="spacingAndGlyphs" fill="#000" >0</text>
<text x="47.9" y="462.03" font-family="'Liberation Serif', serif" font-size="17.6" text-anchor="end" textLength="8.45" lengthAdjust="spacingAndGlyphs" fill="#000" >1</text>
<text x="47.9" y="428.57" font-family="'Liberation Serif', serif" font-size="17.6" text-anchor="end" textLength="8.45" lengthAdjust="spacingAndGlyphs" fill="#000" >2</text>
<text x="47.9" y="395.1" font-family="'Liberation Serif', serif" font-size="17.6" text-anchor="end" textLength="8.45" lengthAdjust="spacingAndGlyphs" fill="#000" >3</text>
<text x="47.9" y="361.63" font-family="'Liberation Serif', serif" font-size="17.6" text-anchor="end" textLength="8.45" lengthAdjust="spacingAndGlyphs" fill="#000" >4</text>
<text x="47.9" y="328.17" font-family="'Liberation Serif', serif" font-size="17.6" text-anchor="end" textLength="8.45" lengthAdjust="spacingAndGlyphs" fill="#000" >5</text>
<text x="47.9" y="294.7" font-family="'Liberation Serif', serif" font-size="17.6" text-anchor="end" textLength="8.45" lengthAdjust="spacingAndGlyphs" fill="#000" >6</text>
<text x="72.4" y="322" font-family="'Liberation Serif', serif" font-size="17.6" text-anchor="start" font-style="italic" textLength="7.2" lengthAdjust="spacingAndGlyphs" fill="#000" >c</text>
<text x="80.6" y="322" font-family="'Liberation Serif', serif" font-size="17.6" text-anchor="start" fill="#000" >)</text>
<text x="191.4" y="538.5" font-family="'Liberation Serif', serif" font-size="17.6" text-anchor="start" textLength="22.9" lengthAdjust="spacingAndGlyphs" fill="#000" >log</text>
<text x="215.2" y="543.4" font-family="'Liberation Serif', serif" font-size="14.2" text-anchor="start" textLength="15.2" lengthAdjust="spacingAndGlyphs" fill="#000" >10</text>
<g transform="translate(234.9,538.5)" fill="none" stroke="#000" stroke-linecap="round" stroke-linejoin="round"><path d="M0.3,-4.0 C0.9,-6.3 2.0,-7.4 3.2,-7.3 C4.9,-7.0 6.0,-3.4 6.5,0.8" stroke-width="1.15"/><path d="M9.8,-7.3 C9.0,-4.5 7.6,-1.5 6.5,0.8" stroke-width="0.75"/><path d="M6.5,0.8 C6.2,2.0 5.85,3.2 5.9,3.85" stroke-width="1.0"/></g>
<g transform="translate(22.8,402.6) rotate(-90)">
<path transform="translate(0,0)" fill="#000" fill-rule="evenodd" d="M0.4,0 L6.5,-12.5 L12.6,0 Z M2.1,-1.0 L5.7,-9.7 L10.0,-1.0 Z"/>
<g transform="translate(13.5,-0.4)" fill="none" stroke="#000" stroke-linecap="round" stroke-linejoin="round"><path d="M0.3,-4.0 C0.9,-6.3 2.0,-7.4 3.2,-7.3 C4.9,-7.0 6.0,-3.4 6.5,0.8" stroke-width="1.15"/><path d="M9.8,-7.3 C9.0,-4.5 7.6,-1.5 6.5,0.8" stroke-width="0.75"/><path d="M6.5,0.8 C6.2,2.0 5.85,3.2 5.9,3.85" stroke-width="1.0"/><circle cx="6.3" cy="-9.9" r="0.95" fill="#000" stroke="none"/></g>
</g>
<path d="M440.6,325.08 L442.54,324.88 L444.48,324.72 L446.43,324.61 L448.37,324.54 L450.31,324.53 L452.25,324.57 L454.19,324.67 L456.14,324.83 L458.08,325.05 L460.02,325.33 L461.96,325.68 L463.91,326.11 L465.85,326.6 L467.79,327.17 L469.73,327.82 L471.67,328.55 L473.62,329.36 L475.56,330.26 L477.5,331.25 L479.44,332.33 L481.38,333.5 L483.33,334.77 L485.27,336.14 L487.21,337.61 L489.15,339.18 L491.1,340.86 L493.04,342.65 L494.98,344.55 L496.92,346.55 L498.86,348.65 L500.81,350.83 L502.75,353.09 L504.69,355.41 L506.63,357.8 L508.57,360.23 L510.52,362.71 L512.46,365.22 L514.4,367.76 L516.34,370.32 L518.29,372.89 L520.23,375.45 L522.17,378.01 L524.11,380.55 L526.05,383.07 L528,385.55 L529.94,387.99 L531.88,390.39 L533.82,392.72 L535.76,394.99 L537.71,397.18 L539.65,399.29 L541.59,401.33 L543.53,403.29 L545.48,405.17 L547.42,406.98 L549.36,408.72 L551.3,410.39 L553.24,411.99 L555.19,413.52 L557.13,414.98 L559.07,416.37 L561.01,417.69 L562.95,418.96 L564.9,420.15 L566.84,421.29 L568.78,422.36 L570.72,423.37 L572.67,424.32 L574.61,425.22 L576.55,426.06 L578.49,426.86 L580.43,427.6 L582.38,428.3 L584.32,428.96 L586.26,429.58 L588.2,430.16 L590.14,430.7 L592.09,431.22 L594.03,431.71 L595.97,432.17 L597.91,432.61 L599.86,433.03 L601.8,433.43 L603.74,433.82 L605.68,434.19 L607.62,434.56 L609.57,434.92 L611.51,435.27 L613.45,435.61 L615.39,435.94 L617.33,436.26 L619.28,436.58 L621.22,436.89 L623.16,437.18 L625.1,437.48 L627.05,437.76 L628.99,438.03 L630.93,438.3 L632.87,438.56 L634.81,438.82 L636.76,439.06 L638.7,439.3 L640.64,439.53 L642.58,439.76 L644.52,439.98 L646.47,440.19 L648.41,440.4 L650.35,440.6 L652.29,440.79 L654.24,440.98 L656.18,441.16 L658.12,441.33 L660.06,441.5 L662,441.67 L663.95,441.82 L665.89,441.98 L667.83,442.12 L669.77,442.27 L671.71,442.4 L673.66,442.54 L675.6,442.66 L677.54,442.79 L679.48,442.9 L681.43,443.02 L683.37,443.13 L685.31,443.23 L687.25,443.33 L689.19,443.43 L691.14,443.52 L693.08,443.61 L695.02,443.7 L696.96,443.78 L698.9,443.86 L700.85,443.93 L702.79,444.01 L704.73,444.08 L706.67,444.14 L708.62,444.21 L710.56,444.27 L712.5,444.33 L714.44,444.38 L716.38,444.44 L718.33,444.49 L720.27,444.54 L722.21,444.58 L724.15,444.63 L726.09,444.67 L728.04,444.72 L729.98,444.76 L731.92,444.8 L733.86,444.83 L735.81,444.87 L737.75,444.91 L739.69,444.94 L741.63,444.98 L743.57,445.01 L745.52,445.04 L747.46,445.07 L749.4,445.11" fill="none" stroke="#e51e10" stroke-width="1.3" stroke-linejoin="round" stroke-linecap="butt"  clip-path="url(#cd)"/>
<path d="M440.6,309.07 L442.15,309.33 L443.7,309.58 L445.26,309.8 L446.81,310 L448.36,310.18 L449.91,310.35 L451.46,310.49 L453.01,310.63 L454.57,310.74 L456.12,310.84 L457.67,310.93 L459.22,311 L460.77,311.06 L462.32,311.1 L463.88,311.14 L465.43,311.16 L466.98,311.17 L468.53,311.17 L470.08,311.16 L471.64,311.14 L473.19,311.12 L474.74,311.09 L476.29,311.05 L477.84,311 L479.39,310.95 L480.95,310.89 L482.5,310.83 L484.05,310.77 L485.6,310.7 L487.15,310.64 L488.7,310.57 L490.26,310.49 L491.81,310.42 L493.36,310.35 L494.91,310.28 L496.46,310.21 L498.02,310.15 L499.57,310.09 L501.12,310.03 L502.67,309.97 L504.22,309.92 L505.77,309.88 L507.33,309.84 L508.88,309.81 L510.43,309.79 L511.98,309.77 L513.53,309.76 L515.08,309.77 L516.64,309.78 L518.19,309.81 L519.74,309.84 L521.29,309.89 L522.84,309.95 L524.39,310.03 L525.95,310.12 L527.5,310.22 L529.05,310.34 L530.6,310.47 L532.15,310.63 L533.71,310.8 L535.26,310.98 L536.81,311.19 L538.36,311.41 L539.91,311.66 L541.46,311.93 L543.02,312.21 L544.57,312.52 L546.12,312.86 L547.67,313.21 L549.22,313.59 L550.77,314 L552.33,314.43 L553.88,314.88 L555.43,315.36 L556.98,315.87 L558.53,316.41 L560.09,316.98 L561.64,317.57 L563.19,318.2 L564.74,318.85 L566.29,319.54 L567.84,320.26 L569.4,321.03 L570.95,321.85 L572.5,322.75 L574.05,323.72 L575.6,324.79 L577.15,325.96 L578.71,327.25 L580.26,328.66 L581.81,330.22 L583.36,331.93 L584.91,333.81 L586.47,335.86 L588.02,338.1 L589.57,340.54 L591.12,343.17 L592.67,345.98 L594.22,348.92 L595.78,352 L597.33,355.17 L598.88,358.43 L600.43,361.74 L601.98,365.08 L603.53,368.43 L605.09,371.77 L606.64,375.08 L608.19,378.34 L609.74,381.51 L611.29,384.59 L612.85,387.55 L614.4,390.37 L615.95,393.02 L617.5,395.49 L619.05,397.78 L620.6,399.91 L622.16,401.87 L623.71,403.69 L625.26,405.38 L626.81,406.94 L628.36,408.38 L629.91,409.72 L631.47,410.97 L633.02,412.14 L634.57,413.23 L636.12,414.27 L637.67,415.25 L639.23,416.2 L640.78,417.11 L642.33,417.99 L643.88,418.84 L645.43,419.65 L646.98,420.44 L648.54,421.2 L650.09,421.93 L651.64,422.63 L653.19,423.3 L654.74,423.95 L656.29,424.57 L657.85,425.16 L659.4,425.73 L660.95,426.28 L662.5,426.8 L664.05,427.29 L665.61,427.76 L667.16,428.22 L668.71,428.64 L670.26,429.05 L671.81,429.44 L673.36,429.81 L674.92,430.16 L676.47,430.49 L678.02,430.8 L679.57,431.1 L681.12,431.37 L682.67,431.63 L684.23,431.88 L685.78,432.11 L687.33,432.33 L688.88,432.53 L690.43,432.72 L691.98,432.9 L693.54,433.06 L695.09,433.22 L696.64,433.36 L698.19,433.5 L699.74,433.62 L701.3,433.73 L702.85,433.84 L704.4,433.94 L705.95,434.03 L707.5,434.12 L709.05,434.2 L710.61,434.27 L712.16,434.34 L713.71,434.4 L715.26,434.47 L716.81,434.53 L718.36,434.58 L719.92,434.64 L721.47,434.69 L723.02,434.75 L724.57,434.8 L726.12,434.85 L727.68,434.91 L729.23,434.97 L730.78,435.03 L732.33,435.09 L733.88,435.16 L735.43,435.23 L736.99,435.31 L738.54,435.39 L740.09,435.48 L741.64,435.58 L743.19,435.68 L744.74,435.79 L746.3,435.91 L747.85,436.04 L749.4,436.18" fill="none" stroke="#1577bb" stroke-width="1.35" stroke-linejoin="round" stroke-linecap="butt" stroke-dasharray="4.9 5.8"  clip-path="url(#cd)"/>
<path d="M440.6,309.4 L442.15,309.45 L443.7,309.5 L445.26,309.55 L446.81,309.59 L448.36,309.63 L449.91,309.67 L451.46,309.7 L453.01,309.73 L454.57,309.76 L456.12,309.79 L457.67,309.81 L459.22,309.83 L460.77,309.85 L462.32,309.86 L463.88,309.88 L465.43,309.89 L466.98,309.9 L468.53,309.91 L470.08,309.91 L471.64,309.91 L473.19,309.91 L474.74,309.91 L476.29,309.91 L477.84,309.91 L479.39,309.9 L480.95,309.9 L482.5,309.89 L484.05,309.88 L485.6,309.87 L487.15,309.85 L488.7,309.84 L490.26,309.82 L491.81,309.81 L493.36,309.79 L494.91,309.77 L496.46,309.76 L498.02,309.74 L499.57,309.72 L501.12,309.7 L502.67,309.68 L504.22,309.65 L505.77,309.63 L507.33,309.61 L508.88,309.59 L510.43,309.56 L511.98,309.54 L513.53,309.52 L515.08,309.5 L516.64,309.47 L518.19,309.45 L519.74,309.43 L521.29,309.41 L522.84,309.39 L524.39,309.37 L525.95,309.35 L527.5,309.33 L529.05,309.31 L530.6,309.29 L532.15,309.27 L533.71,309.25 L535.26,309.24 L536.81,309.22 L538.36,309.21 L539.91,309.2 L541.46,309.19 L543.02,309.18 L544.57,309.17 L546.12,309.16 L547.67,309.16 L549.22,309.15 L550.77,309.15 L552.33,309.15 L553.88,309.15 L555.43,309.15 L556.98,309.16 L558.53,309.17 L560.09,309.18 L561.64,309.19 L563.19,309.2 L564.74,309.22 L566.29,309.24 L567.84,309.26 L569.4,309.28 L570.95,309.31 L572.5,309.34 L574.05,309.37 L575.6,309.4 L577.15,309.44 L578.71,309.48 L580.26,309.52 L581.81,309.57 L583.36,309.62 L584.91,309.67 L586.47,309.73 L588.02,309.79 L589.57,309.85 L591.12,309.92 L592.67,309.99 L594.22,310.06 L595.78,310.14 L597.33,310.22 L598.88,310.3 L600.43,310.39 L601.98,310.49 L603.53,310.58 L605.09,310.69 L606.64,310.79 L608.19,310.9 L609.74,311.02 L611.29,311.13 L612.85,311.26 L614.4,311.39 L615.95,311.52 L617.5,311.66 L619.05,311.8 L620.6,311.94 L622.16,312.1 L623.71,312.25 L625.26,312.42 L626.81,312.59 L628.36,312.78 L629.91,312.99 L631.47,313.22 L633.02,313.48 L634.57,313.78 L636.12,314.11 L637.67,314.48 L639.23,314.9 L640.78,315.36 L642.33,315.88 L643.88,316.46 L645.43,317.1 L646.98,317.81 L648.54,318.59 L650.09,319.45 L651.64,320.37 L653.19,321.37 L654.74,322.45 L656.29,323.59 L657.85,324.8 L659.4,326.08 L660.95,327.42 L662.5,328.83 L664.05,330.31 L665.61,331.84 L667.16,333.44 L668.71,335.1 L670.26,336.82 L671.81,338.6 L673.36,340.44 L674.92,342.33 L676.47,344.27 L678.02,346.27 L679.57,348.32 L681.12,350.43 L682.67,352.58 L684.23,354.78 L685.78,357.02 L687.33,359.29 L688.88,361.55 L690.43,363.81 L691.98,366.04 L693.54,368.22 L695.09,370.35 L696.64,372.39 L698.19,374.36 L699.74,376.26 L701.3,378.06 L702.85,379.79 L704.4,381.43 L705.95,382.98 L707.5,384.43 L709.05,385.8 L710.61,387.07 L712.16,388.24 L713.71,389.31 L715.26,390.3 L716.81,391.2 L718.36,392.02 L719.92,392.77 L721.47,393.45 L723.02,394.06 L724.57,394.62 L726.12,395.12 L727.68,395.57 L729.23,395.97 L730.78,396.34 L732.33,396.68 L733.88,396.98 L735.43,397.26 L736.99,397.52 L738.54,397.77 L740.09,398.01 L741.64,398.25 L743.19,398.49 L744.74,398.74 L746.3,398.99 L747.85,399.27 L749.4,399.56" fill="none" stroke="#000" stroke-width="1.5" stroke-linejoin="round" stroke-linecap="butt" stroke-dasharray="2.5 2.5"  clip-path="url(#cd)"/>
<path d="M441.05,471.7 L748.9,473.7" fill="none" stroke="#000" stroke-width="2.6" stroke-linejoin="round" stroke-linecap="butt"  clip-path="url(#cd)"/>
<path d="M441.05,308.4 L748.9,308.4" fill="none" stroke="#1aa87f" stroke-width="1.4" stroke-linejoin="round" stroke-linecap="butt" stroke-dasharray="21.7 4.3 2 3.9" stroke-dashoffset="11.2" clip-path="url(#cd)"/>
<text x="441.05" y="513.1" font-family="'Liberation Serif', serif" font-size="17.6" text-anchor="middle" textLength="8.4" lengthAdjust="spacingAndGlyphs" fill="#000" >0</text>
<text x="502.62" y="513.1" font-family="'Liberation Serif', serif" font-size="17.6" text-anchor="middle" textLength="22.9" lengthAdjust="spacingAndGlyphs" fill="#000" >0.2</text>
<text x="564.19" y="513.1" font-family="'Liberation Serif', serif" font-size="17.6" text-anchor="middle" textLength="22.9" lengthAdjust="spacingAndGlyphs" fill="#000" >0.4</text>
<text x="625.76" y="513.1" font-family="'Liberation Serif', serif" font-size="17.6" text-anchor="middle" textLength="22.9" lengthAdjust="spacingAndGlyphs" fill="#000" >0.6</text>
<text x="687.33" y="513.1" font-family="'Liberation Serif', serif" font-size="17.6" text-anchor="middle" textLength="22.9" lengthAdjust="spacingAndGlyphs" fill="#000" >0.8</text>
<text x="748.9" y="513.1" font-family="'Liberation Serif', serif" font-size="17.6" text-anchor="middle" textLength="8" lengthAdjust="spacingAndGlyphs" fill="#000" >1</text>
<text x="759.6" y="314.1" font-family="'Liberation Sans', sans-serif" font-size="17.3" text-anchor="start" textLength="23.6" lengthAdjust="spacingAndGlyphs" fill="#000" >0.5</text>
<text x="759.6" y="395.2" font-family="'Liberation Sans', sans-serif" font-size="17.3" text-anchor="start" textLength="23.6" lengthAdjust="spacingAndGlyphs" fill="#000" >0.0</text>
<text x="759.6" y="476.3" font-family="'Liberation Sans', sans-serif" font-size="17.3" text-anchor="start" textLength="29.6" lengthAdjust="spacingAndGlyphs" fill="#000" >-0.5</text>
<text x="594.7" y="538.4" font-family="'Liberation Serif', serif" font-size="17.6" text-anchor="middle" font-style="italic" textLength="8.8" lengthAdjust="spacingAndGlyphs" fill="#000" >y</text>
<text x="457.1" y="321.4" font-family="'Liberation Serif', serif" font-size="17.6" text-anchor="start" font-style="italic" textLength="8.6" lengthAdjust="spacingAndGlyphs" fill="#000" >d</text>
<text x="466.2" y="321.4" font-family="'Liberation Serif', serif" font-size="17.6" text-anchor="start" fill="#000" >)</text>
<g transform="translate(824.7,394.2) rotate(-90)">
<text x="0" y="0" font-family="'Liberation Serif', serif" font-size="17.6" text-anchor="start" font-style="italic" textLength="8.2" lengthAdjust="spacingAndGlyphs" fill="#000" >θ</text>
</g>
</svg>
</body></html>
